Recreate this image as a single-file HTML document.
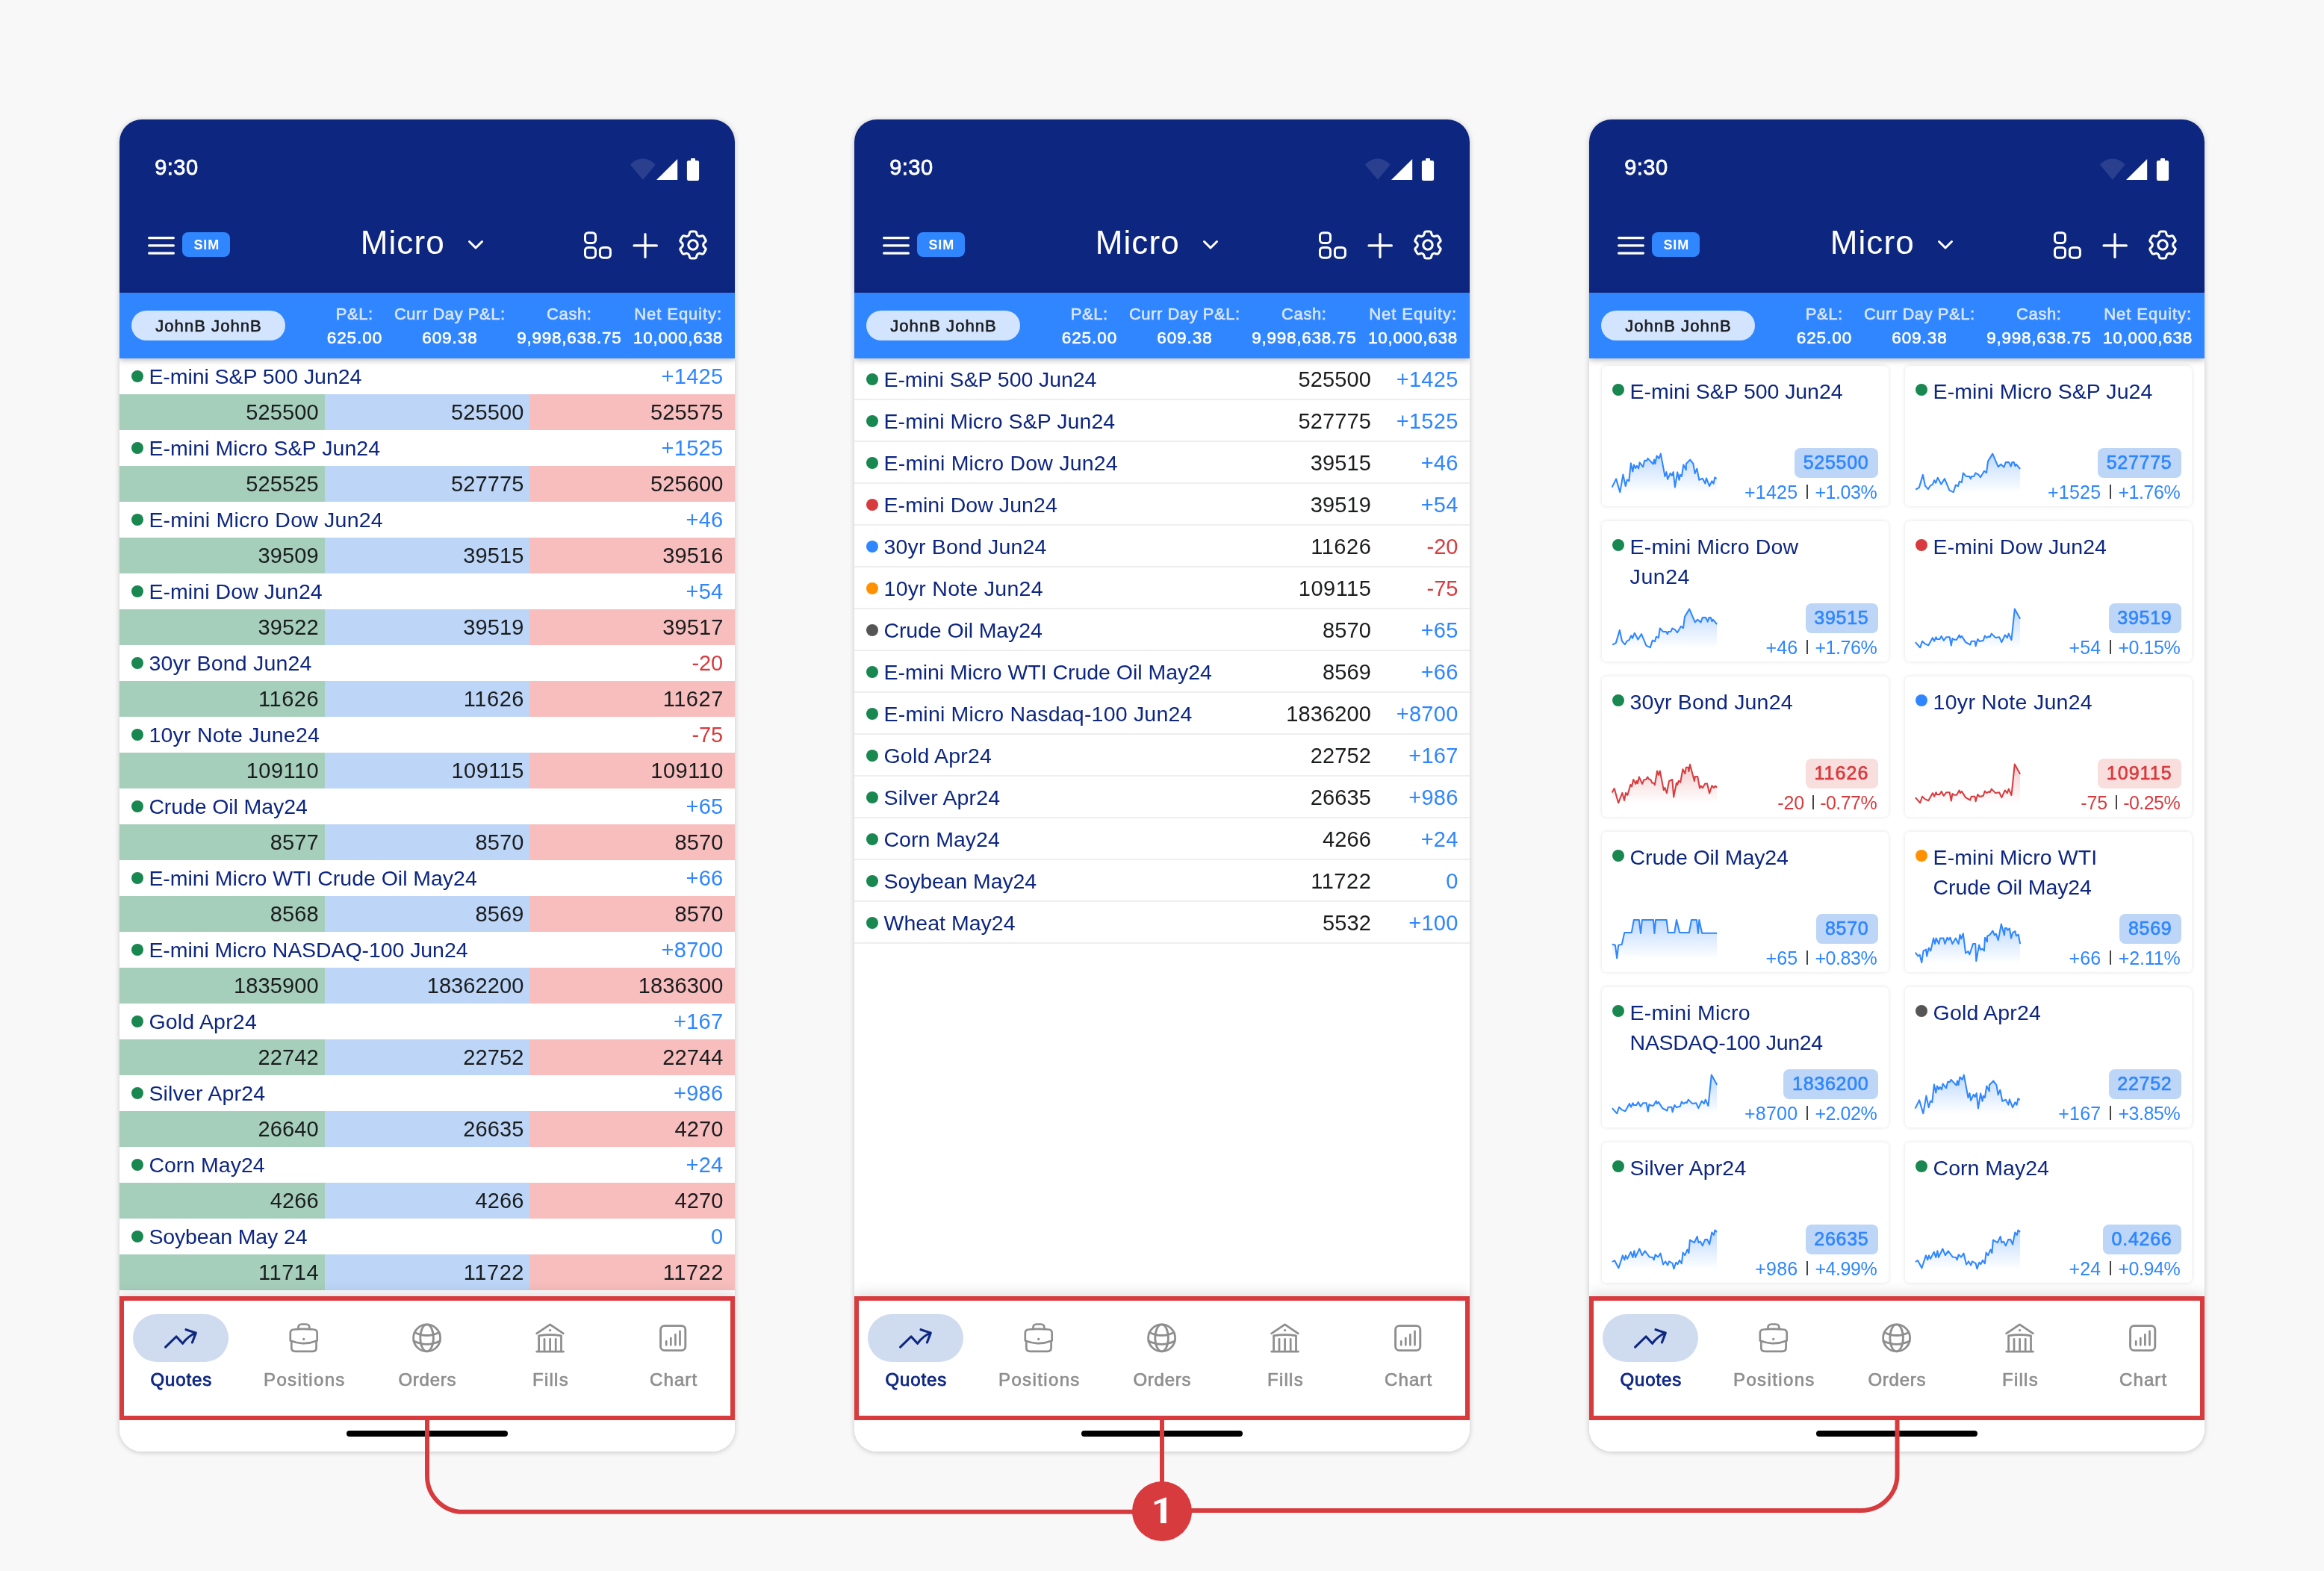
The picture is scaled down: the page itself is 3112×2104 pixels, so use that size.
<!DOCTYPE html><html><head><meta charset="utf-8"><title>Quotes</title><style>
html,body{margin:0;padding:0}
body{width:3112px;height:2104px;background:#f8f8f8;position:relative;overflow:hidden;font-family:"Liberation Sans",sans-serif;}
.b{position:absolute;display:block}
.t{position:absolute;white-space:pre;font-kerning:normal}
.t span{display:inline-block}
.ph{will-change:transform;position:absolute;top:160px;width:824px;height:1784px;background:#fff;border-radius:30px;overflow:hidden;box-shadow:0 1px 7px rgba(0,0,0,.21)}
.card{width:384px;height:188px;background:#fff;border-radius:6px;box-shadow:0 0 5px rgba(0,0,0,.12)}
</style></head><body><div class="ph" style="left:160px"><div class="b" style="left:0.00px;top:0.00px;width:824.00px;height:232.00px;background:#0d2680;"></div><div class="t" style="font-size:29.0px;line-height:40px;color:#fff;top:44px;letter-spacing:0.468px;-webkit-text-stroke:0.78px;left:47.20px;"><span style="margin-right:-0.468px">9:30</span></div><svg class="b" style="left:660px;top:42px;" width="140" height="50" viewBox="0 0 140 50"><path d="M40.9,38.8 L23.9,18.4 A22.3 22.3 0 0 1 57.75,18.4 Z" fill="#fff" fill-opacity="0.12"/><path d="M59,39 H87.2 V10.9 Z" fill="#fff"/><rect x="99.9" y="13" width="16.2" height="27" rx="2.2" fill="#fff"/><rect x="105" y="10" width="6" height="4" rx="1" fill="#fff"/></svg><svg class="b" style="left:38.2px;top:157px;" width="36" height="24" viewBox="0 0 36 24"><rect x="0" y="0" width="36" height="3.2" rx="1.6" fill="#fff"/><rect x="0" y="10.2" width="36" height="3.2" rx="1.6" fill="#fff"/><rect x="0" y="20.5" width="36" height="3.2" rx="1.6" fill="#fff"/></svg><div class="b" style="left:84.00px;top:151.20px;width:64.00px;height:33.00px;background:#2f86ff;border-radius:8px;"></div><div class="t" style="font-size:18px;line-height:24px;color:#fff;top:156px;letter-spacing:0.931px;font-weight:700;left:-483.70px;width:1200px;text-align:center;"><span style="margin-right:-0.931px">SIM</span></div><div class="t" style="font-size:44px;line-height:56px;color:#fff;top:137px;letter-spacing:1.131px;left:322.65px;"><span style="margin-right:-1.131px">Micro</span></div><svg class="b" style="left:460px;top:155px;" width="40" height="30" viewBox="0 0 40 30"><path d="M8.5,8.5 L17,17 L25.5,8.5" fill="none" stroke="#fff" stroke-width="3" stroke-linecap="round" stroke-linejoin="round"/></svg><svg class="b" style="left:620px;top:148px;" width="44" height="42" viewBox="0 0 44 42"><rect x="3.5" y="3.6999999999999886" width="14" height="13.8" rx="4.2" fill="none" stroke="#fff" stroke-width="3"/><rect x="3.5" y="23.400000000000006" width="14" height="13.8" rx="4.2" fill="none" stroke="#fff" stroke-width="3"/><rect x="23.399999999999977" y="23.400000000000006" width="14" height="13.8" rx="4.2" fill="none" stroke="#fff" stroke-width="3"/></svg><svg class="b" style="left:684px;top:148px;" width="40" height="42" viewBox="0 0 40 42"><path d="M5,20.9 H35.4 M20,5.7 V36.4" fill="none" stroke="#fff" stroke-width="3.2" stroke-linecap="round"/></svg><svg class="b" style="left:744.05px;top:143.9px;" width="48" height="48" viewBox="0 0 48 48"><path d="M30.14,11.60 Q29.54,11.25 29.20,10.11 L28.33,7.18 Q27.98,6.04 26.23,6.04 L21.77,6.04 Q20.02,6.04 19.67,7.18 L18.80,10.11 Q18.46,11.25 17.86,11.60 L16.33,12.48 Q15.73,12.83 14.57,12.55 L11.60,11.85 Q10.43,11.57 9.56,13.09 L7.33,16.95 Q6.45,18.47 7.27,19.34 L9.37,21.56 Q10.19,22.43 10.19,23.12 L10.19,24.88 Q10.19,25.57 9.37,26.44 L7.27,28.66 Q6.45,29.53 7.33,31.05 L9.56,34.91 Q10.43,36.43 11.60,36.15 L14.57,35.45 Q15.73,35.17 16.33,35.52 L17.86,36.40 Q18.46,36.75 18.80,37.89 L19.67,40.82 Q20.02,41.96 21.77,41.96 L26.23,41.96 Q27.98,41.96 28.33,40.82 L29.20,37.89 Q29.54,36.75 30.14,36.40 L31.67,35.52 Q32.27,35.17 33.43,35.45 L36.40,36.15 Q37.57,36.43 38.44,34.91 L40.67,31.05 Q41.55,29.53 40.73,28.66 L38.63,26.44 Q37.81,25.57 37.81,24.88 L37.81,23.12 Q37.81,22.43 38.63,21.56 L40.73,19.34 Q41.55,18.47 40.67,16.95 L38.44,13.09 Q37.57,11.57 36.40,11.85 L33.43,12.55 Q32.27,12.83 31.67,12.48 Z" fill="none" stroke="#fff" stroke-width="3.1" stroke-linejoin="round"/><circle cx="24" cy="24" r="6.2" fill="none" stroke="#fff" stroke-width="3.1"/></svg><div class="b" style="left:0.00px;top:232.00px;width:824.00px;height:88.00px;background:#2f86ff;box-shadow:0 2px 8px rgba(0,0,0,.30);z-index:3;"></div><div class="b" style="left:0;top:232px;width:824px;height:88px;z-index:4"><div class="b" style="left:16.00px;top:24.00px;width:206.00px;height:40.00px;background:#d3e4ff;border-radius:20px;"></div><div class="t" style="font-size:22px;line-height:32px;color:#1a1c1e;top:29px;letter-spacing:1.067px;-webkit-text-stroke:0.62px;left:-481.00px;width:1200px;text-align:center;"><span style="margin-right:-1.067px">JohnB JohnB</span></div><div class="t" style="font-size:22px;line-height:32px;color:#d7e6ff;top:13px;letter-spacing:0.531px;-webkit-text-stroke:0.62px;left:-285.50px;width:1200px;text-align:center;"><span style="margin-right:-0.531px">P&amp;L:</span></div><div class="t" style="font-size:22.5px;line-height:32px;color:#fff;top:45px;letter-spacing:0.969px;-webkit-text-stroke:0.62px;left:-285.50px;width:1200px;text-align:center;"><span style="margin-right:-0.969px">625.00</span></div><div class="t" style="font-size:22px;line-height:32px;color:#d7e6ff;top:13px;letter-spacing:0.532px;-webkit-text-stroke:0.62px;left:-158.00px;width:1200px;text-align:center;"><span style="margin-right:-0.532px">Curr Day P&amp;L:</span></div><div class="t" style="font-size:22.5px;line-height:32px;color:#fff;top:45px;letter-spacing:0.969px;-webkit-text-stroke:0.62px;left:-158.00px;width:1200px;text-align:center;"><span style="margin-right:-0.969px">609.38</span></div><div class="t" style="font-size:22px;line-height:32px;color:#d7e6ff;top:13px;letter-spacing:0.619px;-webkit-text-stroke:0.62px;left:2.00px;width:1200px;text-align:center;"><span style="margin-right:-0.619px">Cash:</span></div><div class="t" style="font-size:22.5px;line-height:32px;color:#fff;top:45px;letter-spacing:0.76px;-webkit-text-stroke:0.62px;left:2.00px;width:1200px;text-align:center;"><span style="margin-right:-0.76px">9,998,638.75</span></div><div class="t" style="font-size:22px;line-height:32px;color:#d7e6ff;top:13px;letter-spacing:0.909px;-webkit-text-stroke:0.62px;left:147.70px;width:1200px;text-align:center;"><span style="margin-right:-0.909px">Net Equity:</span></div><div class="t" style="font-size:22.5px;line-height:32px;color:#fff;top:45px;letter-spacing:0.725px;-webkit-text-stroke:0.62px;left:147.70px;width:1200px;text-align:center;"><span style="margin-right:-0.725px">10,000,638</span></div></div><div class="b" style="left:16.00px;top:336.00px;width:16.00px;height:16.00px;background:#188750;border-radius:50%;"></div><div class="t" style="font-size:28.5px;line-height:48px;color:#0d2680;top:320px;letter-spacing:-0.069px;left:39.40px;"><span style="margin-right:0.069px">E-mini S&amp;P 500 Jun24</span></div><div class="t" style="font-size:29.0px;line-height:48px;color:#2f86ff;top:320px;letter-spacing:0.278px;left:-391.90px;width:1200px;text-align:right;"><span style="margin-right:-0.278px">+1425</span></div><div class="b" style="left:0.00px;top:368.00px;width:274.67px;height:48.00px;background:#a6cfbb;"></div><div class="b" style="left:274.67px;top:368.00px;width:274.67px;height:48.00px;background:#bdd6f7;"></div><div class="b" style="left:549.33px;top:368.00px;width:275.67px;height:48.00px;background:#f8bebe;"></div><div class="t" style="font-size:29.0px;line-height:48px;color:#1a1c1e;top:368px;letter-spacing:0.107px;left:-933.33px;width:1200px;text-align:right;"><span style="margin-right:-0.107px">525500</span></div><div class="t" style="font-size:29.0px;line-height:48px;color:#1a1c1e;top:368px;letter-spacing:0.107px;left:-658.57px;width:1200px;text-align:right;"><span style="margin-right:-0.107px">525500</span></div><div class="t" style="font-size:29.0px;line-height:48px;color:#1a1c1e;top:368px;letter-spacing:0.107px;left:-391.70px;width:1200px;text-align:right;"><span style="margin-right:-0.107px">525575</span></div><div class="b" style="left:16.00px;top:432.00px;width:16.00px;height:16.00px;background:#188750;border-radius:50%;"></div><div class="t" style="font-size:28.5px;line-height:48px;color:#0d2680;top:416px;letter-spacing:0.064px;left:39.40px;"><span style="margin-right:-0.064px">E-mini Micro S&amp;P Jun24</span></div><div class="t" style="font-size:29.0px;line-height:48px;color:#2f86ff;top:416px;letter-spacing:0.278px;left:-391.90px;width:1200px;text-align:right;"><span style="margin-right:-0.278px">+1525</span></div><div class="b" style="left:0.00px;top:464.00px;width:274.67px;height:48.00px;background:#a6cfbb;"></div><div class="b" style="left:274.67px;top:464.00px;width:274.67px;height:48.00px;background:#bdd6f7;"></div><div class="b" style="left:549.33px;top:464.00px;width:275.67px;height:48.00px;background:#f8bebe;"></div><div class="t" style="font-size:29.0px;line-height:48px;color:#1a1c1e;top:464px;letter-spacing:0.107px;left:-933.33px;width:1200px;text-align:right;"><span style="margin-right:-0.107px">525525</span></div><div class="t" style="font-size:29.0px;line-height:48px;color:#1a1c1e;top:464px;letter-spacing:0.107px;left:-658.57px;width:1200px;text-align:right;"><span style="margin-right:-0.107px">527775</span></div><div class="t" style="font-size:29.0px;line-height:48px;color:#1a1c1e;top:464px;letter-spacing:0.107px;left:-391.70px;width:1200px;text-align:right;"><span style="margin-right:-0.107px">525600</span></div><div class="b" style="left:16.00px;top:528.00px;width:16.00px;height:16.00px;background:#188750;border-radius:50%;"></div><div class="t" style="font-size:28.5px;line-height:48px;color:#0d2680;top:512px;letter-spacing:0.208px;left:39.40px;"><span style="margin-right:-0.208px">E-mini Micro Dow Jun24</span></div><div class="t" style="font-size:29.0px;line-height:48px;color:#2f86ff;top:512px;letter-spacing:0.185px;left:-391.90px;width:1200px;text-align:right;"><span style="margin-right:-0.185px">+46</span></div><div class="b" style="left:0.00px;top:560.00px;width:274.67px;height:48.00px;background:#a6cfbb;"></div><div class="b" style="left:274.67px;top:560.00px;width:274.67px;height:48.00px;background:#bdd6f7;"></div><div class="b" style="left:549.33px;top:560.00px;width:275.67px;height:48.00px;background:#f8bebe;"></div><div class="t" style="font-size:29.0px;line-height:48px;color:#1a1c1e;top:560px;letter-spacing:0.106px;left:-933.33px;width:1200px;text-align:right;"><span style="margin-right:-0.106px">39509</span></div><div class="t" style="font-size:29.0px;line-height:48px;color:#1a1c1e;top:560px;letter-spacing:0.106px;left:-658.57px;width:1200px;text-align:right;"><span style="margin-right:-0.106px">39515</span></div><div class="t" style="font-size:29.0px;line-height:48px;color:#1a1c1e;top:560px;letter-spacing:0.106px;left:-391.70px;width:1200px;text-align:right;"><span style="margin-right:-0.106px">39516</span></div><div class="b" style="left:16.00px;top:624.00px;width:16.00px;height:16.00px;background:#188750;border-radius:50%;"></div><div class="t" style="font-size:28.5px;line-height:48px;color:#0d2680;top:608px;letter-spacing:0.07px;left:39.40px;"><span style="margin-right:-0.07px">E-mini Dow Jun24</span></div><div class="t" style="font-size:29.0px;line-height:48px;color:#2f86ff;top:608px;letter-spacing:0.185px;left:-391.90px;width:1200px;text-align:right;"><span style="margin-right:-0.185px">+54</span></div><div class="b" style="left:0.00px;top:656.00px;width:274.67px;height:48.00px;background:#a6cfbb;"></div><div class="b" style="left:274.67px;top:656.00px;width:274.67px;height:48.00px;background:#bdd6f7;"></div><div class="b" style="left:549.33px;top:656.00px;width:275.67px;height:48.00px;background:#f8bebe;"></div><div class="t" style="font-size:29.0px;line-height:48px;color:#1a1c1e;top:656px;letter-spacing:0.106px;left:-933.33px;width:1200px;text-align:right;"><span style="margin-right:-0.106px">39522</span></div><div class="t" style="font-size:29.0px;line-height:48px;color:#1a1c1e;top:656px;letter-spacing:0.106px;left:-658.57px;width:1200px;text-align:right;"><span style="margin-right:-0.106px">39519</span></div><div class="t" style="font-size:29.0px;line-height:48px;color:#1a1c1e;top:656px;letter-spacing:0.106px;left:-391.70px;width:1200px;text-align:right;"><span style="margin-right:-0.106px">39517</span></div><div class="b" style="left:16.00px;top:720.00px;width:16.00px;height:16.00px;background:#188750;border-radius:50%;"></div><div class="t" style="font-size:28.5px;line-height:48px;color:#0d2680;top:704px;letter-spacing:0.173px;left:39.40px;"><span style="margin-right:-0.173px">30yr Bond Jun24</span></div><div class="t" style="font-size:29.0px;line-height:48px;color:#d73b3e;top:704px;letter-spacing:-0.101px;left:-391.90px;width:1200px;text-align:right;"><span style="margin-right:0.101px">-20</span></div><div class="b" style="left:0.00px;top:752.00px;width:274.67px;height:48.00px;background:#a6cfbb;"></div><div class="b" style="left:274.67px;top:752.00px;width:274.67px;height:48.00px;background:#bdd6f7;"></div><div class="b" style="left:549.33px;top:752.00px;width:275.67px;height:48.00px;background:#f8bebe;"></div><div class="t" style="font-size:29.0px;line-height:48px;color:#1a1c1e;top:752px;letter-spacing:0.537px;left:-933.33px;width:1200px;text-align:right;"><span style="margin-right:-0.537px">11626</span></div><div class="t" style="font-size:29.0px;line-height:48px;color:#1a1c1e;top:752px;letter-spacing:0.537px;left:-658.57px;width:1200px;text-align:right;"><span style="margin-right:-0.537px">11626</span></div><div class="t" style="font-size:29.0px;line-height:48px;color:#1a1c1e;top:752px;letter-spacing:0.537px;left:-391.70px;width:1200px;text-align:right;"><span style="margin-right:-0.537px">11627</span></div><div class="b" style="left:16.00px;top:816.00px;width:16.00px;height:16.00px;background:#188750;border-radius:50%;"></div><div class="t" style="font-size:28.5px;line-height:48px;color:#0d2680;top:800px;letter-spacing:0.233px;left:39.40px;"><span style="margin-right:-0.233px">10yr Note June24</span></div><div class="t" style="font-size:29.0px;line-height:48px;color:#d73b3e;top:800px;letter-spacing:-0.101px;left:-391.90px;width:1200px;text-align:right;"><span style="margin-right:0.101px">-75</span></div><div class="b" style="left:0.00px;top:848.00px;width:274.67px;height:48.00px;background:#a6cfbb;"></div><div class="b" style="left:274.67px;top:848.00px;width:274.67px;height:48.00px;background:#bdd6f7;"></div><div class="b" style="left:549.33px;top:848.00px;width:275.67px;height:48.00px;background:#f8bebe;"></div><div class="t" style="font-size:29.0px;line-height:48px;color:#1a1c1e;top:848px;letter-spacing:0.466px;left:-933.33px;width:1200px;text-align:right;"><span style="margin-right:-0.466px">109110</span></div><div class="t" style="font-size:29.0px;line-height:48px;color:#1a1c1e;top:848px;letter-spacing:0.466px;left:-658.57px;width:1200px;text-align:right;"><span style="margin-right:-0.466px">109115</span></div><div class="t" style="font-size:29.0px;line-height:48px;color:#1a1c1e;top:848px;letter-spacing:0.466px;left:-391.70px;width:1200px;text-align:right;"><span style="margin-right:-0.466px">109110</span></div><div class="b" style="left:16.00px;top:912.00px;width:16.00px;height:16.00px;background:#188750;border-radius:50%;"></div><div class="t" style="font-size:28.5px;line-height:48px;color:#0d2680;top:896px;letter-spacing:-0.106px;left:39.40px;"><span style="margin-right:0.106px">Crude Oil May24</span></div><div class="t" style="font-size:29.0px;line-height:48px;color:#2f86ff;top:896px;letter-spacing:0.185px;left:-391.90px;width:1200px;text-align:right;"><span style="margin-right:-0.185px">+65</span></div><div class="b" style="left:0.00px;top:944.00px;width:274.67px;height:48.00px;background:#a6cfbb;"></div><div class="b" style="left:274.67px;top:944.00px;width:274.67px;height:48.00px;background:#bdd6f7;"></div><div class="b" style="left:549.33px;top:944.00px;width:275.67px;height:48.00px;background:#f8bebe;"></div><div class="t" style="font-size:29.0px;line-height:48px;color:#1a1c1e;top:944px;letter-spacing:0.109px;left:-933.33px;width:1200px;text-align:right;"><span style="margin-right:-0.109px">8577</span></div><div class="t" style="font-size:29.0px;line-height:48px;color:#1a1c1e;top:944px;letter-spacing:0.109px;left:-658.57px;width:1200px;text-align:right;"><span style="margin-right:-0.109px">8570</span></div><div class="t" style="font-size:29.0px;line-height:48px;color:#1a1c1e;top:944px;letter-spacing:0.109px;left:-391.70px;width:1200px;text-align:right;"><span style="margin-right:-0.109px">8570</span></div><div class="b" style="left:16.00px;top:1008.00px;width:16.00px;height:16.00px;background:#188750;border-radius:50%;"></div><div class="t" style="font-size:28.5px;line-height:48px;color:#0d2680;top:992px;letter-spacing:-0.028px;left:39.40px;"><span style="margin-right:0.028px">E-mini Micro WTI Crude Oil May24</span></div><div class="t" style="font-size:29.0px;line-height:48px;color:#2f86ff;top:992px;letter-spacing:0.185px;left:-391.90px;width:1200px;text-align:right;"><span style="margin-right:-0.185px">+66</span></div><div class="b" style="left:0.00px;top:1040.00px;width:274.67px;height:48.00px;background:#a6cfbb;"></div><div class="b" style="left:274.67px;top:1040.00px;width:274.67px;height:48.00px;background:#bdd6f7;"></div><div class="b" style="left:549.33px;top:1040.00px;width:275.67px;height:48.00px;background:#f8bebe;"></div><div class="t" style="font-size:29.0px;line-height:48px;color:#1a1c1e;top:1040px;letter-spacing:0.109px;left:-933.33px;width:1200px;text-align:right;"><span style="margin-right:-0.109px">8568</span></div><div class="t" style="font-size:29.0px;line-height:48px;color:#1a1c1e;top:1040px;letter-spacing:0.109px;left:-658.57px;width:1200px;text-align:right;"><span style="margin-right:-0.109px">8569</span></div><div class="t" style="font-size:29.0px;line-height:48px;color:#1a1c1e;top:1040px;letter-spacing:0.109px;left:-391.70px;width:1200px;text-align:right;"><span style="margin-right:-0.109px">8570</span></div><div class="b" style="left:16.00px;top:1104.00px;width:16.00px;height:16.00px;background:#188750;border-radius:50%;"></div><div class="t" style="font-size:28.5px;line-height:48px;color:#0d2680;top:1088px;letter-spacing:-0.075px;left:39.40px;"><span style="margin-right:0.075px">E-mini Micro NASDAQ-100 Jun24</span></div><div class="t" style="font-size:29.0px;line-height:48px;color:#2f86ff;top:1088px;letter-spacing:0.278px;left:-391.90px;width:1200px;text-align:right;"><span style="margin-right:-0.278px">+8700</span></div><div class="b" style="left:0.00px;top:1136.00px;width:274.67px;height:48.00px;background:#a6cfbb;"></div><div class="b" style="left:274.67px;top:1136.00px;width:274.67px;height:48.00px;background:#bdd6f7;"></div><div class="b" style="left:549.33px;top:1136.00px;width:275.67px;height:48.00px;background:#f8bebe;"></div><div class="t" style="font-size:29.0px;line-height:48px;color:#1a1c1e;top:1136px;letter-spacing:0.107px;left:-933.33px;width:1200px;text-align:right;"><span style="margin-right:-0.107px">1835900</span></div><div class="t" style="font-size:29.0px;line-height:48px;color:#1a1c1e;top:1136px;letter-spacing:0.107px;left:-658.57px;width:1200px;text-align:right;"><span style="margin-right:-0.107px">18362200</span></div><div class="t" style="font-size:29.0px;line-height:48px;color:#1a1c1e;top:1136px;letter-spacing:0.107px;left:-391.70px;width:1200px;text-align:right;"><span style="margin-right:-0.107px">1836300</span></div><div class="b" style="left:16.00px;top:1200.00px;width:16.00px;height:16.00px;background:#188750;border-radius:50%;"></div><div class="t" style="font-size:28.5px;line-height:48px;color:#0d2680;top:1184px;letter-spacing:0.194px;left:39.40px;"><span style="margin-right:-0.194px">Gold Apr24</span></div><div class="t" style="font-size:29.0px;line-height:48px;color:#2f86ff;top:1184px;letter-spacing:0.245px;left:-391.90px;width:1200px;text-align:right;"><span style="margin-right:-0.245px">+167</span></div><div class="b" style="left:0.00px;top:1232.00px;width:274.67px;height:48.00px;background:#a6cfbb;"></div><div class="b" style="left:274.67px;top:1232.00px;width:274.67px;height:48.00px;background:#bdd6f7;"></div><div class="b" style="left:549.33px;top:1232.00px;width:275.67px;height:48.00px;background:#f8bebe;"></div><div class="t" style="font-size:29.0px;line-height:48px;color:#1a1c1e;top:1232px;letter-spacing:0.106px;left:-933.33px;width:1200px;text-align:right;"><span style="margin-right:-0.106px">22742</span></div><div class="t" style="font-size:29.0px;line-height:48px;color:#1a1c1e;top:1232px;letter-spacing:0.106px;left:-658.57px;width:1200px;text-align:right;"><span style="margin-right:-0.106px">22752</span></div><div class="t" style="font-size:29.0px;line-height:48px;color:#1a1c1e;top:1232px;letter-spacing:0.106px;left:-391.70px;width:1200px;text-align:right;"><span style="margin-right:-0.106px">22744</span></div><div class="b" style="left:16.00px;top:1296.00px;width:16.00px;height:16.00px;background:#188750;border-radius:50%;"></div><div class="t" style="font-size:28.5px;line-height:48px;color:#0d2680;top:1280px;letter-spacing:0.182px;left:39.40px;"><span style="margin-right:-0.182px">Silver Apr24</span></div><div class="t" style="font-size:29.0px;line-height:48px;color:#2f86ff;top:1280px;letter-spacing:0.245px;left:-391.90px;width:1200px;text-align:right;"><span style="margin-right:-0.245px">+986</span></div><div class="b" style="left:0.00px;top:1328.00px;width:274.67px;height:48.00px;background:#a6cfbb;"></div><div class="b" style="left:274.67px;top:1328.00px;width:274.67px;height:48.00px;background:#bdd6f7;"></div><div class="b" style="left:549.33px;top:1328.00px;width:275.67px;height:48.00px;background:#f8bebe;"></div><div class="t" style="font-size:29.0px;line-height:48px;color:#1a1c1e;top:1328px;letter-spacing:0.106px;left:-933.33px;width:1200px;text-align:right;"><span style="margin-right:-0.106px">26640</span></div><div class="t" style="font-size:29.0px;line-height:48px;color:#1a1c1e;top:1328px;letter-spacing:0.106px;left:-658.57px;width:1200px;text-align:right;"><span style="margin-right:-0.106px">26635</span></div><div class="t" style="font-size:29.0px;line-height:48px;color:#1a1c1e;top:1328px;letter-spacing:0.109px;left:-391.70px;width:1200px;text-align:right;"><span style="margin-right:-0.109px">4270</span></div><div class="b" style="left:16.00px;top:1392.00px;width:16.00px;height:16.00px;background:#188750;border-radius:50%;"></div><div class="t" style="font-size:28.5px;line-height:48px;color:#0d2680;top:1376px;letter-spacing:0.005px;left:39.40px;"><span style="margin-right:-0.005px">Corn May24</span></div><div class="t" style="font-size:29.0px;line-height:48px;color:#2f86ff;top:1376px;letter-spacing:0.185px;left:-391.90px;width:1200px;text-align:right;"><span style="margin-right:-0.185px">+24</span></div><div class="b" style="left:0.00px;top:1424.00px;width:274.67px;height:48.00px;background:#a6cfbb;"></div><div class="b" style="left:274.67px;top:1424.00px;width:274.67px;height:48.00px;background:#bdd6f7;"></div><div class="b" style="left:549.33px;top:1424.00px;width:275.67px;height:48.00px;background:#f8bebe;"></div><div class="t" style="font-size:29.0px;line-height:48px;color:#1a1c1e;top:1424px;letter-spacing:0.109px;left:-933.33px;width:1200px;text-align:right;"><span style="margin-right:-0.109px">4266</span></div><div class="t" style="font-size:29.0px;line-height:48px;color:#1a1c1e;top:1424px;letter-spacing:0.109px;left:-658.57px;width:1200px;text-align:right;"><span style="margin-right:-0.109px">4266</span></div><div class="t" style="font-size:29.0px;line-height:48px;color:#1a1c1e;top:1424px;letter-spacing:0.109px;left:-391.70px;width:1200px;text-align:right;"><span style="margin-right:-0.109px">4270</span></div><div class="b" style="left:16.00px;top:1488.00px;width:16.00px;height:16.00px;background:#188750;border-radius:50%;"></div><div class="t" style="font-size:28.5px;line-height:48px;color:#0d2680;top:1472px;letter-spacing:-0.136px;left:39.40px;"><span style="margin-right:0.136px">Soybean May 24</span></div><div class="t" style="font-size:29.0px;line-height:48px;color:#2f86ff;top:1472px;letter-spacing:0.409px;left:-391.90px;width:1200px;text-align:right;"><span style="margin-right:-0.409px">0</span></div><div class="b" style="left:0.00px;top:1520.00px;width:274.67px;height:48.00px;background:#a6cfbb;"></div><div class="b" style="left:274.67px;top:1520.00px;width:274.67px;height:48.00px;background:#bdd6f7;"></div><div class="b" style="left:549.33px;top:1520.00px;width:275.67px;height:48.00px;background:#f8bebe;"></div><div class="t" style="font-size:29.0px;line-height:48px;color:#1a1c1e;top:1520px;letter-spacing:0.537px;left:-933.33px;width:1200px;text-align:right;"><span style="margin-right:-0.537px">11714</span></div><div class="t" style="font-size:29.0px;line-height:48px;color:#1a1c1e;top:1520px;letter-spacing:0.537px;left:-658.57px;width:1200px;text-align:right;"><span style="margin-right:-0.537px">11722</span></div><div class="t" style="font-size:29.0px;line-height:48px;color:#1a1c1e;top:1520px;letter-spacing:0.537px;left:-391.70px;width:1200px;text-align:right;"><span style="margin-right:-0.537px">11722</span></div><div class="b" style="left:0.00px;top:1576.00px;width:824.00px;height:160.00px;background:#fff;box-shadow:0 -3px 18px rgba(0,0,0,.145);z-index:5;"></div><div class="b" style="left:0.00px;top:1736.00px;width:824.00px;height:48.00px;background:#fff;z-index:5;"></div><div class="b" style="left:0;top:1576px;width:824px;height:166px;z-index:6"><div class="b" style="left:18.40px;top:24.00px;width:128.00px;height:64.00px;background:#cfdbee;border-radius:32px;"></div><svg class="b" style="left:0;top:0" width="824" height="160" viewBox="160 1736 824 160"><path d="M221.6,1804.2 L236.1,1790 L244.6,1799.3 Q252,1789 262.3,1785.1 M249,1780.7 L262.3,1785.1 L257.4,1798" fill="none" stroke="#0d2680" stroke-width="3.1" stroke-linecap="round" stroke-linejoin="round"/><g fill="none" stroke="#8e8e8e" stroke-width="2.7" stroke-linecap="round" stroke-linejoin="round"><path d="M399.4,1779.6 V1778.2 Q399.4,1773.5 404.2,1773.5 H409.6 Q414.4,1773.5 414.4,1778.2 V1779.6"/><path d="M388.8,1795.6 V1785.2 Q388.8,1780.7 393.6,1780.5 Q406.75,1779.4 419.9,1780.5 Q424.7,1780.7 424.7,1785.2 V1795.6 Q406.75,1802.8 388.8,1795.6 Z"/><path d="M390.3,1797 V1805 Q390.3,1809.9 395.5,1809.9 H418.4 Q423.6,1809.9 423.6,1805 V1797"/></g><circle cx="406.7" cy="1793.5" r="1.7" fill="#8e8e8e"/><g fill="none" stroke="#8e8e8e" stroke-width="2.8" stroke-linecap="round"><circle cx="571.6" cy="1791.9" r="18"/><ellipse cx="571.6" cy="1791.9" rx="8.8" ry="18"/><path d="M555.2,1784.4 Q571.6,1792.6 588,1784.4 M554,1796 Q571.6,1804.6 589.2,1796"/></g><g fill="none" stroke="#8e8e8e" stroke-width="2.75" stroke-linecap="round" stroke-linejoin="round"><path d="M718.7,1785.9 L736.5,1773.8 L754.3,1785.9"/><path d="M721.6,1808.6 V1788.8 Q736.5,1786.4 751.5,1788.8 V1808.6"/><path d="M729,1793.4 V1808.2 M736.6,1793.4 V1808.2 M744.2,1793.4 V1808.2"/><path d="M718.8,1810.2 H754.4"/></g><circle cx="736.6" cy="1781.6" r="1.7" fill="#8e8e8e"/><g fill="none" stroke="#8e8e8e" stroke-linecap="round"><rect x="884.6" y="1775.6" width="33.2" height="33" rx="5.2" stroke-width="2.9"/><path d="M892.2,1796.3 V1801.3 M898.3,1792 V1801.3 M904.4,1787.4 V1801.3 M910.5,1782.9 V1801.3" stroke-width="2.7"/></g></svg><div class="t" style="font-size:24px;line-height:32px;color:#0d2680;top:96px;letter-spacing:0.909px;-webkit-text-stroke:0.82px;left:-517.60px;width:1200px;text-align:center;"><span style="margin-right:-0.909px">Quotes</span></div><div class="t" style="font-size:24px;line-height:32px;color:#8e8e8e;top:96px;letter-spacing:1.366px;-webkit-text-stroke:0.67px;left:-352.80px;width:1200px;text-align:center;"><span style="margin-right:-1.366px">Positions</span></div><div class="t" style="font-size:24px;line-height:32px;color:#8e8e8e;top:96px;letter-spacing:0.776px;-webkit-text-stroke:0.67px;left:-188.00px;width:1200px;text-align:center;"><span style="margin-right:-0.776px">Orders</span></div><div class="t" style="font-size:24px;line-height:32px;color:#8e8e8e;top:96px;letter-spacing:1.253px;-webkit-text-stroke:0.67px;left:-23.20px;width:1200px;text-align:center;"><span style="margin-right:-1.253px">Fills</span></div><div class="t" style="font-size:24px;line-height:32px;color:#8e8e8e;top:96px;letter-spacing:1.066px;-webkit-text-stroke:0.67px;left:141.60px;width:1200px;text-align:center;"><span style="margin-right:-1.066px">Chart</span></div><div class="b" style="left:0.00px;top:0.00px;width:812.00px;height:154.00px;background:transparent;border:6px solid #d73b3e;"></div></div><div class="b" style="left:304.00px;top:1756.00px;width:216.00px;height:8.00px;background:#000;border-radius:4px;z-index:6;"></div></div><div class="ph" style="left:1144px"><div class="b" style="left:0.00px;top:0.00px;width:824.00px;height:232.00px;background:#0d2680;"></div><div class="t" style="font-size:29.0px;line-height:40px;color:#fff;top:44px;letter-spacing:0.468px;-webkit-text-stroke:0.78px;left:47.20px;"><span style="margin-right:-0.468px">9:30</span></div><svg class="b" style="left:660px;top:42px;" width="140" height="50" viewBox="0 0 140 50"><path d="M40.9,38.8 L23.9,18.4 A22.3 22.3 0 0 1 57.75,18.4 Z" fill="#fff" fill-opacity="0.12"/><path d="M59,39 H87.2 V10.9 Z" fill="#fff"/><rect x="99.9" y="13" width="16.2" height="27" rx="2.2" fill="#fff"/><rect x="105" y="10" width="6" height="4" rx="1" fill="#fff"/></svg><svg class="b" style="left:38.2px;top:157px;" width="36" height="24" viewBox="0 0 36 24"><rect x="0" y="0" width="36" height="3.2" rx="1.6" fill="#fff"/><rect x="0" y="10.2" width="36" height="3.2" rx="1.6" fill="#fff"/><rect x="0" y="20.5" width="36" height="3.2" rx="1.6" fill="#fff"/></svg><div class="b" style="left:84.00px;top:151.20px;width:64.00px;height:33.00px;background:#2f86ff;border-radius:8px;"></div><div class="t" style="font-size:18px;line-height:24px;color:#fff;top:156px;letter-spacing:0.931px;font-weight:700;left:-483.70px;width:1200px;text-align:center;"><span style="margin-right:-0.931px">SIM</span></div><div class="t" style="font-size:44px;line-height:56px;color:#fff;top:137px;letter-spacing:1.131px;left:322.65px;"><span style="margin-right:-1.131px">Micro</span></div><svg class="b" style="left:460px;top:155px;" width="40" height="30" viewBox="0 0 40 30"><path d="M8.5,8.5 L17,17 L25.5,8.5" fill="none" stroke="#fff" stroke-width="3" stroke-linecap="round" stroke-linejoin="round"/></svg><svg class="b" style="left:620px;top:148px;" width="44" height="42" viewBox="0 0 44 42"><rect x="3.5" y="3.6999999999999886" width="14" height="13.8" rx="4.2" fill="none" stroke="#fff" stroke-width="3"/><rect x="3.5" y="23.400000000000006" width="14" height="13.8" rx="4.2" fill="none" stroke="#fff" stroke-width="3"/><rect x="23.399999999999977" y="23.400000000000006" width="14" height="13.8" rx="4.2" fill="none" stroke="#fff" stroke-width="3"/></svg><svg class="b" style="left:684px;top:148px;" width="40" height="42" viewBox="0 0 40 42"><path d="M5,20.9 H35.4 M20,5.7 V36.4" fill="none" stroke="#fff" stroke-width="3.2" stroke-linecap="round"/></svg><svg class="b" style="left:744.05px;top:143.9px;" width="48" height="48" viewBox="0 0 48 48"><path d="M30.14,11.60 Q29.54,11.25 29.20,10.11 L28.33,7.18 Q27.98,6.04 26.23,6.04 L21.77,6.04 Q20.02,6.04 19.67,7.18 L18.80,10.11 Q18.46,11.25 17.86,11.60 L16.33,12.48 Q15.73,12.83 14.57,12.55 L11.60,11.85 Q10.43,11.57 9.56,13.09 L7.33,16.95 Q6.45,18.47 7.27,19.34 L9.37,21.56 Q10.19,22.43 10.19,23.12 L10.19,24.88 Q10.19,25.57 9.37,26.44 L7.27,28.66 Q6.45,29.53 7.33,31.05 L9.56,34.91 Q10.43,36.43 11.60,36.15 L14.57,35.45 Q15.73,35.17 16.33,35.52 L17.86,36.40 Q18.46,36.75 18.80,37.89 L19.67,40.82 Q20.02,41.96 21.77,41.96 L26.23,41.96 Q27.98,41.96 28.33,40.82 L29.20,37.89 Q29.54,36.75 30.14,36.40 L31.67,35.52 Q32.27,35.17 33.43,35.45 L36.40,36.15 Q37.57,36.43 38.44,34.91 L40.67,31.05 Q41.55,29.53 40.73,28.66 L38.63,26.44 Q37.81,25.57 37.81,24.88 L37.81,23.12 Q37.81,22.43 38.63,21.56 L40.73,19.34 Q41.55,18.47 40.67,16.95 L38.44,13.09 Q37.57,11.57 36.40,11.85 L33.43,12.55 Q32.27,12.83 31.67,12.48 Z" fill="none" stroke="#fff" stroke-width="3.1" stroke-linejoin="round"/><circle cx="24" cy="24" r="6.2" fill="none" stroke="#fff" stroke-width="3.1"/></svg><div class="b" style="left:0.00px;top:232.00px;width:824.00px;height:88.00px;background:#2f86ff;box-shadow:0 2px 8px rgba(0,0,0,.30);z-index:3;"></div><div class="b" style="left:0;top:232px;width:824px;height:88px;z-index:4"><div class="b" style="left:16.00px;top:24.00px;width:206.00px;height:40.00px;background:#d3e4ff;border-radius:20px;"></div><div class="t" style="font-size:22px;line-height:32px;color:#1a1c1e;top:29px;letter-spacing:1.067px;-webkit-text-stroke:0.62px;left:-481.00px;width:1200px;text-align:center;"><span style="margin-right:-1.067px">JohnB JohnB</span></div><div class="t" style="font-size:22px;line-height:32px;color:#d7e6ff;top:13px;letter-spacing:0.531px;-webkit-text-stroke:0.62px;left:-285.50px;width:1200px;text-align:center;"><span style="margin-right:-0.531px">P&amp;L:</span></div><div class="t" style="font-size:22.5px;line-height:32px;color:#fff;top:45px;letter-spacing:0.969px;-webkit-text-stroke:0.62px;left:-285.50px;width:1200px;text-align:center;"><span style="margin-right:-0.969px">625.00</span></div><div class="t" style="font-size:22px;line-height:32px;color:#d7e6ff;top:13px;letter-spacing:0.532px;-webkit-text-stroke:0.62px;left:-158.00px;width:1200px;text-align:center;"><span style="margin-right:-0.532px">Curr Day P&amp;L:</span></div><div class="t" style="font-size:22.5px;line-height:32px;color:#fff;top:45px;letter-spacing:0.969px;-webkit-text-stroke:0.62px;left:-158.00px;width:1200px;text-align:center;"><span style="margin-right:-0.969px">609.38</span></div><div class="t" style="font-size:22px;line-height:32px;color:#d7e6ff;top:13px;letter-spacing:0.619px;-webkit-text-stroke:0.62px;left:2.00px;width:1200px;text-align:center;"><span style="margin-right:-0.619px">Cash:</span></div><div class="t" style="font-size:22.5px;line-height:32px;color:#fff;top:45px;letter-spacing:0.76px;-webkit-text-stroke:0.62px;left:2.00px;width:1200px;text-align:center;"><span style="margin-right:-0.76px">9,998,638.75</span></div><div class="t" style="font-size:22px;line-height:32px;color:#d7e6ff;top:13px;letter-spacing:0.909px;-webkit-text-stroke:0.62px;left:147.70px;width:1200px;text-align:center;"><span style="margin-right:-0.909px">Net Equity:</span></div><div class="t" style="font-size:22.5px;line-height:32px;color:#fff;top:45px;letter-spacing:0.725px;-webkit-text-stroke:0.62px;left:147.70px;width:1200px;text-align:center;"><span style="margin-right:-0.725px">10,000,638</span></div></div><div class="b" style="left:16.00px;top:340.00px;width:16.00px;height:16.00px;background:#188750;border-radius:50%;"></div><div class="t" style="font-size:28.5px;line-height:56px;color:#0d2680;top:320px;letter-spacing:-0.069px;left:39.50px;"><span style="margin-right:0.069px">E-mini S&amp;P 500 Jun24</span></div><div class="t" style="font-size:29.0px;line-height:56px;color:#1a1c1e;top:320px;letter-spacing:0.107px;left:-508.20px;width:1200px;text-align:right;"><span style="margin-right:-0.107px">525500</span></div><div class="t" style="font-size:29.0px;line-height:56px;color:#2f86ff;top:320px;letter-spacing:0.278px;left:-391.70px;width:1200px;text-align:right;"><span style="margin-right:-0.278px">+1425</span></div><div class="b" style="left:0.00px;top:374.00px;width:824.00px;height:2.00px;background:#eeeeee;"></div><div class="b" style="left:16.00px;top:396.00px;width:16.00px;height:16.00px;background:#188750;border-radius:50%;"></div><div class="t" style="font-size:28.5px;line-height:56px;color:#0d2680;top:376px;letter-spacing:0.064px;left:39.50px;"><span style="margin-right:-0.064px">E-mini Micro S&amp;P Jun24</span></div><div class="t" style="font-size:29.0px;line-height:56px;color:#1a1c1e;top:376px;letter-spacing:0.107px;left:-508.20px;width:1200px;text-align:right;"><span style="margin-right:-0.107px">527775</span></div><div class="t" style="font-size:29.0px;line-height:56px;color:#2f86ff;top:376px;letter-spacing:0.278px;left:-391.70px;width:1200px;text-align:right;"><span style="margin-right:-0.278px">+1525</span></div><div class="b" style="left:0.00px;top:430.00px;width:824.00px;height:2.00px;background:#eeeeee;"></div><div class="b" style="left:16.00px;top:452.00px;width:16.00px;height:16.00px;background:#188750;border-radius:50%;"></div><div class="t" style="font-size:28.5px;line-height:56px;color:#0d2680;top:432px;letter-spacing:0.208px;left:39.50px;"><span style="margin-right:-0.208px">E-mini Micro Dow Jun24</span></div><div class="t" style="font-size:29.0px;line-height:56px;color:#1a1c1e;top:432px;letter-spacing:0.106px;left:-508.20px;width:1200px;text-align:right;"><span style="margin-right:-0.106px">39515</span></div><div class="t" style="font-size:29.0px;line-height:56px;color:#2f86ff;top:432px;letter-spacing:0.185px;left:-391.70px;width:1200px;text-align:right;"><span style="margin-right:-0.185px">+46</span></div><div class="b" style="left:0.00px;top:486.00px;width:824.00px;height:2.00px;background:#eeeeee;"></div><div class="b" style="left:16.00px;top:508.00px;width:16.00px;height:16.00px;background:#d73b3e;border-radius:50%;"></div><div class="t" style="font-size:28.5px;line-height:56px;color:#0d2680;top:488px;letter-spacing:0.07px;left:39.50px;"><span style="margin-right:-0.07px">E-mini Dow Jun24</span></div><div class="t" style="font-size:29.0px;line-height:56px;color:#1a1c1e;top:488px;letter-spacing:0.106px;left:-508.20px;width:1200px;text-align:right;"><span style="margin-right:-0.106px">39519</span></div><div class="t" style="font-size:29.0px;line-height:56px;color:#2f86ff;top:488px;letter-spacing:0.185px;left:-391.70px;width:1200px;text-align:right;"><span style="margin-right:-0.185px">+54</span></div><div class="b" style="left:0.00px;top:542.00px;width:824.00px;height:2.00px;background:#eeeeee;"></div><div class="b" style="left:16.00px;top:564.00px;width:16.00px;height:16.00px;background:#2f86ff;border-radius:50%;"></div><div class="t" style="font-size:28.5px;line-height:56px;color:#0d2680;top:544px;letter-spacing:0.173px;left:39.50px;"><span style="margin-right:-0.173px">30yr Bond Jun24</span></div><div class="t" style="font-size:29.0px;line-height:56px;color:#1a1c1e;top:544px;letter-spacing:0.537px;left:-508.20px;width:1200px;text-align:right;"><span style="margin-right:-0.537px">11626</span></div><div class="t" style="font-size:29.0px;line-height:56px;color:#d73b3e;top:544px;letter-spacing:-0.101px;left:-391.70px;width:1200px;text-align:right;"><span style="margin-right:0.101px">-20</span></div><div class="b" style="left:0.00px;top:598.00px;width:824.00px;height:2.00px;background:#eeeeee;"></div><div class="b" style="left:16.00px;top:620.00px;width:16.00px;height:16.00px;background:#ff9100;border-radius:50%;"></div><div class="t" style="font-size:28.5px;line-height:56px;color:#0d2680;top:600px;letter-spacing:0.282px;left:39.50px;"><span style="margin-right:-0.282px">10yr Note Jun24</span></div><div class="t" style="font-size:29.0px;line-height:56px;color:#1a1c1e;top:600px;letter-spacing:0.466px;left:-508.20px;width:1200px;text-align:right;"><span style="margin-right:-0.466px">109115</span></div><div class="t" style="font-size:29.0px;line-height:56px;color:#d73b3e;top:600px;letter-spacing:-0.101px;left:-391.70px;width:1200px;text-align:right;"><span style="margin-right:0.101px">-75</span></div><div class="b" style="left:0.00px;top:654.00px;width:824.00px;height:2.00px;background:#eeeeee;"></div><div class="b" style="left:16.00px;top:676.00px;width:16.00px;height:16.00px;background:#555555;border-radius:50%;"></div><div class="t" style="font-size:28.5px;line-height:56px;color:#0d2680;top:656px;letter-spacing:-0.106px;left:39.50px;"><span style="margin-right:0.106px">Crude Oil May24</span></div><div class="t" style="font-size:29.0px;line-height:56px;color:#1a1c1e;top:656px;letter-spacing:0.109px;left:-508.20px;width:1200px;text-align:right;"><span style="margin-right:-0.109px">8570</span></div><div class="t" style="font-size:29.0px;line-height:56px;color:#2f86ff;top:656px;letter-spacing:0.185px;left:-391.70px;width:1200px;text-align:right;"><span style="margin-right:-0.185px">+65</span></div><div class="b" style="left:0.00px;top:710.00px;width:824.00px;height:2.00px;background:#eeeeee;"></div><div class="b" style="left:16.00px;top:732.00px;width:16.00px;height:16.00px;background:#188750;border-radius:50%;"></div><div class="t" style="font-size:28.5px;line-height:56px;color:#0d2680;top:712px;letter-spacing:-0.028px;left:39.50px;"><span style="margin-right:0.028px">E-mini Micro WTI Crude Oil May24</span></div><div class="t" style="font-size:29.0px;line-height:56px;color:#1a1c1e;top:712px;letter-spacing:0.109px;left:-508.20px;width:1200px;text-align:right;"><span style="margin-right:-0.109px">8569</span></div><div class="t" style="font-size:29.0px;line-height:56px;color:#2f86ff;top:712px;letter-spacing:0.185px;left:-391.70px;width:1200px;text-align:right;"><span style="margin-right:-0.185px">+66</span></div><div class="b" style="left:0.00px;top:766.00px;width:824.00px;height:2.00px;background:#eeeeee;"></div><div class="b" style="left:16.00px;top:788.00px;width:16.00px;height:16.00px;background:#188750;border-radius:50%;"></div><div class="t" style="font-size:28.5px;line-height:56px;color:#0d2680;top:768px;letter-spacing:0.206px;left:39.50px;"><span style="margin-right:-0.206px">E-mini Micro Nasdaq-100 Jun24</span></div><div class="t" style="font-size:29.0px;line-height:56px;color:#1a1c1e;top:768px;letter-spacing:0.107px;left:-508.20px;width:1200px;text-align:right;"><span style="margin-right:-0.107px">1836200</span></div><div class="t" style="font-size:29.0px;line-height:56px;color:#2f86ff;top:768px;letter-spacing:0.278px;left:-391.70px;width:1200px;text-align:right;"><span style="margin-right:-0.278px">+8700</span></div><div class="b" style="left:0.00px;top:822.00px;width:824.00px;height:2.00px;background:#eeeeee;"></div><div class="b" style="left:16.00px;top:844.00px;width:16.00px;height:16.00px;background:#188750;border-radius:50%;"></div><div class="t" style="font-size:28.5px;line-height:56px;color:#0d2680;top:824px;letter-spacing:0.194px;left:39.50px;"><span style="margin-right:-0.194px">Gold Apr24</span></div><div class="t" style="font-size:29.0px;line-height:56px;color:#1a1c1e;top:824px;letter-spacing:0.106px;left:-508.20px;width:1200px;text-align:right;"><span style="margin-right:-0.106px">22752</span></div><div class="t" style="font-size:29.0px;line-height:56px;color:#2f86ff;top:824px;letter-spacing:0.245px;left:-391.70px;width:1200px;text-align:right;"><span style="margin-right:-0.245px">+167</span></div><div class="b" style="left:0.00px;top:878.00px;width:824.00px;height:2.00px;background:#eeeeee;"></div><div class="b" style="left:16.00px;top:900.00px;width:16.00px;height:16.00px;background:#188750;border-radius:50%;"></div><div class="t" style="font-size:28.5px;line-height:56px;color:#0d2680;top:880px;letter-spacing:0.182px;left:39.50px;"><span style="margin-right:-0.182px">Silver Apr24</span></div><div class="t" style="font-size:29.0px;line-height:56px;color:#1a1c1e;top:880px;letter-spacing:0.106px;left:-508.20px;width:1200px;text-align:right;"><span style="margin-right:-0.106px">26635</span></div><div class="t" style="font-size:29.0px;line-height:56px;color:#2f86ff;top:880px;letter-spacing:0.245px;left:-391.70px;width:1200px;text-align:right;"><span style="margin-right:-0.245px">+986</span></div><div class="b" style="left:0.00px;top:934.00px;width:824.00px;height:2.00px;background:#eeeeee;"></div><div class="b" style="left:16.00px;top:956.00px;width:16.00px;height:16.00px;background:#188750;border-radius:50%;"></div><div class="t" style="font-size:28.5px;line-height:56px;color:#0d2680;top:936px;letter-spacing:0.005px;left:39.50px;"><span style="margin-right:-0.005px">Corn May24</span></div><div class="t" style="font-size:29.0px;line-height:56px;color:#1a1c1e;top:936px;letter-spacing:0.109px;left:-508.20px;width:1200px;text-align:right;"><span style="margin-right:-0.109px">4266</span></div><div class="t" style="font-size:29.0px;line-height:56px;color:#2f86ff;top:936px;letter-spacing:0.185px;left:-391.70px;width:1200px;text-align:right;"><span style="margin-right:-0.185px">+24</span></div><div class="b" style="left:0.00px;top:990.00px;width:824.00px;height:2.00px;background:#eeeeee;"></div><div class="b" style="left:16.00px;top:1012.00px;width:16.00px;height:16.00px;background:#188750;border-radius:50%;"></div><div class="t" style="font-size:28.5px;line-height:56px;color:#0d2680;top:992px;letter-spacing:-0.111px;left:39.50px;"><span style="margin-right:0.111px">Soybean May24</span></div><div class="t" style="font-size:29.0px;line-height:56px;color:#1a1c1e;top:992px;letter-spacing:0.537px;left:-508.20px;width:1200px;text-align:right;"><span style="margin-right:-0.537px">11722</span></div><div class="t" style="font-size:29.0px;line-height:56px;color:#2f86ff;top:992px;letter-spacing:0.409px;left:-391.70px;width:1200px;text-align:right;"><span style="margin-right:-0.409px">0</span></div><div class="b" style="left:0.00px;top:1046.00px;width:824.00px;height:2.00px;background:#eeeeee;"></div><div class="b" style="left:16.00px;top:1068.00px;width:16.00px;height:16.00px;background:#188750;border-radius:50%;"></div><div class="t" style="font-size:28.5px;line-height:56px;color:#0d2680;top:1048px;letter-spacing:0.027px;left:39.50px;"><span style="margin-right:-0.027px">Wheat May24</span></div><div class="t" style="font-size:29.0px;line-height:56px;color:#1a1c1e;top:1048px;letter-spacing:0.109px;left:-508.20px;width:1200px;text-align:right;"><span style="margin-right:-0.109px">5532</span></div><div class="t" style="font-size:29.0px;line-height:56px;color:#2f86ff;top:1048px;letter-spacing:0.245px;left:-391.70px;width:1200px;text-align:right;"><span style="margin-right:-0.245px">+100</span></div><div class="b" style="left:0.00px;top:1102.00px;width:824.00px;height:2.00px;background:#eeeeee;"></div><div class="b" style="left:0.00px;top:1576.00px;width:824.00px;height:160.00px;background:#fff;box-shadow:0 -3px 18px rgba(0,0,0,.145);z-index:5;"></div><div class="b" style="left:0.00px;top:1736.00px;width:824.00px;height:48.00px;background:#fff;z-index:5;"></div><div class="b" style="left:0;top:1576px;width:824px;height:166px;z-index:6"><div class="b" style="left:18.40px;top:24.00px;width:128.00px;height:64.00px;background:#cfdbee;border-radius:32px;"></div><svg class="b" style="left:0;top:0" width="824" height="160" viewBox="160 1736 824 160"><path d="M221.6,1804.2 L236.1,1790 L244.6,1799.3 Q252,1789 262.3,1785.1 M249,1780.7 L262.3,1785.1 L257.4,1798" fill="none" stroke="#0d2680" stroke-width="3.1" stroke-linecap="round" stroke-linejoin="round"/><g fill="none" stroke="#8e8e8e" stroke-width="2.7" stroke-linecap="round" stroke-linejoin="round"><path d="M399.4,1779.6 V1778.2 Q399.4,1773.5 404.2,1773.5 H409.6 Q414.4,1773.5 414.4,1778.2 V1779.6"/><path d="M388.8,1795.6 V1785.2 Q388.8,1780.7 393.6,1780.5 Q406.75,1779.4 419.9,1780.5 Q424.7,1780.7 424.7,1785.2 V1795.6 Q406.75,1802.8 388.8,1795.6 Z"/><path d="M390.3,1797 V1805 Q390.3,1809.9 395.5,1809.9 H418.4 Q423.6,1809.9 423.6,1805 V1797"/></g><circle cx="406.7" cy="1793.5" r="1.7" fill="#8e8e8e"/><g fill="none" stroke="#8e8e8e" stroke-width="2.8" stroke-linecap="round"><circle cx="571.6" cy="1791.9" r="18"/><ellipse cx="571.6" cy="1791.9" rx="8.8" ry="18"/><path d="M555.2,1784.4 Q571.6,1792.6 588,1784.4 M554,1796 Q571.6,1804.6 589.2,1796"/></g><g fill="none" stroke="#8e8e8e" stroke-width="2.75" stroke-linecap="round" stroke-linejoin="round"><path d="M718.7,1785.9 L736.5,1773.8 L754.3,1785.9"/><path d="M721.6,1808.6 V1788.8 Q736.5,1786.4 751.5,1788.8 V1808.6"/><path d="M729,1793.4 V1808.2 M736.6,1793.4 V1808.2 M744.2,1793.4 V1808.2"/><path d="M718.8,1810.2 H754.4"/></g><circle cx="736.6" cy="1781.6" r="1.7" fill="#8e8e8e"/><g fill="none" stroke="#8e8e8e" stroke-linecap="round"><rect x="884.6" y="1775.6" width="33.2" height="33" rx="5.2" stroke-width="2.9"/><path d="M892.2,1796.3 V1801.3 M898.3,1792 V1801.3 M904.4,1787.4 V1801.3 M910.5,1782.9 V1801.3" stroke-width="2.7"/></g></svg><div class="t" style="font-size:24px;line-height:32px;color:#0d2680;top:96px;letter-spacing:0.909px;-webkit-text-stroke:0.82px;left:-517.60px;width:1200px;text-align:center;"><span style="margin-right:-0.909px">Quotes</span></div><div class="t" style="font-size:24px;line-height:32px;color:#8e8e8e;top:96px;letter-spacing:1.366px;-webkit-text-stroke:0.67px;left:-352.80px;width:1200px;text-align:center;"><span style="margin-right:-1.366px">Positions</span></div><div class="t" style="font-size:24px;line-height:32px;color:#8e8e8e;top:96px;letter-spacing:0.776px;-webkit-text-stroke:0.67px;left:-188.00px;width:1200px;text-align:center;"><span style="margin-right:-0.776px">Orders</span></div><div class="t" style="font-size:24px;line-height:32px;color:#8e8e8e;top:96px;letter-spacing:1.253px;-webkit-text-stroke:0.67px;left:-23.20px;width:1200px;text-align:center;"><span style="margin-right:-1.253px">Fills</span></div><div class="t" style="font-size:24px;line-height:32px;color:#8e8e8e;top:96px;letter-spacing:1.066px;-webkit-text-stroke:0.67px;left:141.60px;width:1200px;text-align:center;"><span style="margin-right:-1.066px">Chart</span></div><div class="b" style="left:0.00px;top:0.00px;width:812.00px;height:154.00px;background:transparent;border:6px solid #d73b3e;"></div></div><div class="b" style="left:304.00px;top:1756.00px;width:216.00px;height:8.00px;background:#000;border-radius:4px;z-index:6;"></div></div><div class="ph" style="left:2128px"><div class="b" style="left:0.00px;top:0.00px;width:824.00px;height:232.00px;background:#0d2680;"></div><div class="t" style="font-size:29.0px;line-height:40px;color:#fff;top:44px;letter-spacing:0.468px;-webkit-text-stroke:0.78px;left:47.20px;"><span style="margin-right:-0.468px">9:30</span></div><svg class="b" style="left:660px;top:42px;" width="140" height="50" viewBox="0 0 140 50"><path d="M40.9,38.8 L23.9,18.4 A22.3 22.3 0 0 1 57.75,18.4 Z" fill="#fff" fill-opacity="0.12"/><path d="M59,39 H87.2 V10.9 Z" fill="#fff"/><rect x="99.9" y="13" width="16.2" height="27" rx="2.2" fill="#fff"/><rect x="105" y="10" width="6" height="4" rx="1" fill="#fff"/></svg><svg class="b" style="left:38.2px;top:157px;" width="36" height="24" viewBox="0 0 36 24"><rect x="0" y="0" width="36" height="3.2" rx="1.6" fill="#fff"/><rect x="0" y="10.2" width="36" height="3.2" rx="1.6" fill="#fff"/><rect x="0" y="20.5" width="36" height="3.2" rx="1.6" fill="#fff"/></svg><div class="b" style="left:84.00px;top:151.20px;width:64.00px;height:33.00px;background:#2f86ff;border-radius:8px;"></div><div class="t" style="font-size:18px;line-height:24px;color:#fff;top:156px;letter-spacing:0.931px;font-weight:700;left:-483.70px;width:1200px;text-align:center;"><span style="margin-right:-0.931px">SIM</span></div><div class="t" style="font-size:44px;line-height:56px;color:#fff;top:137px;letter-spacing:1.131px;left:322.65px;"><span style="margin-right:-1.131px">Micro</span></div><svg class="b" style="left:460px;top:155px;" width="40" height="30" viewBox="0 0 40 30"><path d="M8.5,8.5 L17,17 L25.5,8.5" fill="none" stroke="#fff" stroke-width="3" stroke-linecap="round" stroke-linejoin="round"/></svg><svg class="b" style="left:620px;top:148px;" width="44" height="42" viewBox="0 0 44 42"><rect x="3.5" y="3.6999999999999886" width="14" height="13.8" rx="4.2" fill="none" stroke="#fff" stroke-width="3"/><rect x="3.5" y="23.400000000000006" width="14" height="13.8" rx="4.2" fill="none" stroke="#fff" stroke-width="3"/><rect x="23.399999999999977" y="23.400000000000006" width="14" height="13.8" rx="4.2" fill="none" stroke="#fff" stroke-width="3"/></svg><svg class="b" style="left:684px;top:148px;" width="40" height="42" viewBox="0 0 40 42"><path d="M5,20.9 H35.4 M20,5.7 V36.4" fill="none" stroke="#fff" stroke-width="3.2" stroke-linecap="round"/></svg><svg class="b" style="left:744.05px;top:143.9px;" width="48" height="48" viewBox="0 0 48 48"><path d="M30.14,11.60 Q29.54,11.25 29.20,10.11 L28.33,7.18 Q27.98,6.04 26.23,6.04 L21.77,6.04 Q20.02,6.04 19.67,7.18 L18.80,10.11 Q18.46,11.25 17.86,11.60 L16.33,12.48 Q15.73,12.83 14.57,12.55 L11.60,11.85 Q10.43,11.57 9.56,13.09 L7.33,16.95 Q6.45,18.47 7.27,19.34 L9.37,21.56 Q10.19,22.43 10.19,23.12 L10.19,24.88 Q10.19,25.57 9.37,26.44 L7.27,28.66 Q6.45,29.53 7.33,31.05 L9.56,34.91 Q10.43,36.43 11.60,36.15 L14.57,35.45 Q15.73,35.17 16.33,35.52 L17.86,36.40 Q18.46,36.75 18.80,37.89 L19.67,40.82 Q20.02,41.96 21.77,41.96 L26.23,41.96 Q27.98,41.96 28.33,40.82 L29.20,37.89 Q29.54,36.75 30.14,36.40 L31.67,35.52 Q32.27,35.17 33.43,35.45 L36.40,36.15 Q37.57,36.43 38.44,34.91 L40.67,31.05 Q41.55,29.53 40.73,28.66 L38.63,26.44 Q37.81,25.57 37.81,24.88 L37.81,23.12 Q37.81,22.43 38.63,21.56 L40.73,19.34 Q41.55,18.47 40.67,16.95 L38.44,13.09 Q37.57,11.57 36.40,11.85 L33.43,12.55 Q32.27,12.83 31.67,12.48 Z" fill="none" stroke="#fff" stroke-width="3.1" stroke-linejoin="round"/><circle cx="24" cy="24" r="6.2" fill="none" stroke="#fff" stroke-width="3.1"/></svg><div class="b" style="left:0.00px;top:232.00px;width:824.00px;height:88.00px;background:#2f86ff;box-shadow:0 2px 8px rgba(0,0,0,.30);z-index:3;"></div><div class="b" style="left:0;top:232px;width:824px;height:88px;z-index:4"><div class="b" style="left:16.00px;top:24.00px;width:206.00px;height:40.00px;background:#d3e4ff;border-radius:20px;"></div><div class="t" style="font-size:22px;line-height:32px;color:#1a1c1e;top:29px;letter-spacing:1.067px;-webkit-text-stroke:0.62px;left:-481.00px;width:1200px;text-align:center;"><span style="margin-right:-1.067px">JohnB JohnB</span></div><div class="t" style="font-size:22px;line-height:32px;color:#d7e6ff;top:13px;letter-spacing:0.531px;-webkit-text-stroke:0.62px;left:-285.50px;width:1200px;text-align:center;"><span style="margin-right:-0.531px">P&amp;L:</span></div><div class="t" style="font-size:22.5px;line-height:32px;color:#fff;top:45px;letter-spacing:0.969px;-webkit-text-stroke:0.62px;left:-285.50px;width:1200px;text-align:center;"><span style="margin-right:-0.969px">625.00</span></div><div class="t" style="font-size:22px;line-height:32px;color:#d7e6ff;top:13px;letter-spacing:0.532px;-webkit-text-stroke:0.62px;left:-158.00px;width:1200px;text-align:center;"><span style="margin-right:-0.532px">Curr Day P&amp;L:</span></div><div class="t" style="font-size:22.5px;line-height:32px;color:#fff;top:45px;letter-spacing:0.969px;-webkit-text-stroke:0.62px;left:-158.00px;width:1200px;text-align:center;"><span style="margin-right:-0.969px">609.38</span></div><div class="t" style="font-size:22px;line-height:32px;color:#d7e6ff;top:13px;letter-spacing:0.619px;-webkit-text-stroke:0.62px;left:2.00px;width:1200px;text-align:center;"><span style="margin-right:-0.619px">Cash:</span></div><div class="t" style="font-size:22.5px;line-height:32px;color:#fff;top:45px;letter-spacing:0.76px;-webkit-text-stroke:0.62px;left:2.00px;width:1200px;text-align:center;"><span style="margin-right:-0.76px">9,998,638.75</span></div><div class="t" style="font-size:22px;line-height:32px;color:#d7e6ff;top:13px;letter-spacing:0.909px;-webkit-text-stroke:0.62px;left:147.70px;width:1200px;text-align:center;"><span style="margin-right:-0.909px">Net Equity:</span></div><div class="t" style="font-size:22.5px;line-height:32px;color:#fff;top:45px;letter-spacing:0.725px;-webkit-text-stroke:0.62px;left:147.70px;width:1200px;text-align:center;"><span style="margin-right:-0.725px">10,000,638</span></div></div><div class="b card" style="left:17px;top:330px;"><div class="b" style="left:14.00px;top:24.00px;width:16.00px;height:16.00px;background:#188750;border-radius:50%;"></div><div class="t" style="font-size:28.5px;line-height:40px;color:#0d2680;top:14px;letter-spacing:-0.069px;left:37.60px;"><span style="margin-right:0.069px">E-mini S&amp;P 500 Jun24</span></div><svg class="b" style="left:14px;top:116px;overflow:visible" width="142" height="64" viewBox="0 0 142 64"><defs><linearGradient id="g1" gradientUnits="userSpaceOnUse" x1="0" y1="0" x2="0" y2="54"><stop offset="0" stop-color="#2f86ff" stop-opacity="0.32"/><stop offset="1" stop-color="#2f86ff" stop-opacity="0"/></linearGradient></defs><path d="M-0.4,54 L-0.4,46.6 L5.1,35.4 L10.3,53.3 L14.4,29.6 L17.7,45.1 L19.9,36.5 L22.3,38.2 L24.9,14.4 L27.3,25.5 L29.0,16.5 L31.1,21.0 L32.8,17.9 L35.1,21.3 L36.6,13.4 L41.1,19.3 L43.2,10.7 L46.1,11.0 L47.5,7.9 L54.7,15.5 L56.1,9.6 L57.4,15.1 L59.5,4.5 L62.6,8.0 L64.8,1.6 L70.5,32.0 L72.5,26.1 L74.1,35.8 L77.8,27.7 L79.8,31.0 L81.7,26.1 L83.9,46.5 L87.2,26.4 L89.6,36.8 L90.8,29.8 L92.9,32.0 L95.3,16.5 L98.8,23.4 L98.8,15.3 L104.2,9.6 L108.4,15.1 L110.6,28.2 L113.3,21.7 L116.3,36.8 L120.8,34.8 L124.4,41.6 L125.9,34.4 L130.1,45.1 L133.4,38.2 L135.6,41.6 L137.3,33.4 L139.7,35.1 L139.7,54Z" fill="url(#g1)"/><polyline points="-0.4,46.6 5.1,35.4 10.3,53.3 14.4,29.6 17.7,45.1 19.9,36.5 22.3,38.2 24.9,14.4 27.3,25.5 29.0,16.5 31.1,21.0 32.8,17.9 35.1,21.3 36.6,13.4 41.1,19.3 43.2,10.7 46.1,11.0 47.5,7.9 54.7,15.5 56.1,9.6 57.4,15.1 59.5,4.5 62.6,8.0 64.8,1.6 70.5,32.0 72.5,26.1 74.1,35.8 77.8,27.7 79.8,31.0 81.7,26.1 83.9,46.5 87.2,26.4 89.6,36.8 90.8,29.8 92.9,32.0 95.3,16.5 98.8,23.4 98.8,15.3 104.2,9.6 108.4,15.1 110.6,28.2 113.3,21.7 116.3,36.8 120.8,34.8 124.4,41.6 125.9,34.4 130.1,45.1 133.4,38.2 135.6,41.6 137.3,33.4 139.7,35.1" fill="none" stroke="#2f86ff" stroke-width="2.05" stroke-linejoin="round"/></svg><div class="b" style="left:257.96px;top:110.00px;width:112.04px;height:40.00px;background:#bdd6f7;border-radius:8px;"></div><div class="t" style="font-size:25.0px;line-height:32px;color:#2f86ff;top:113px;letter-spacing:0.734px;-webkit-text-stroke:0.67px;left:-286.82px;width:1200px;text-align:center;"><span style="margin-right:-0.734px">525500</span></div><div class="t" style="font-size:25.0px;line-height:32px;color:#2f86ff;top:153px;letter-spacing:-0.45px;left:-831.40px;width:1200px;text-align:right;"><span style="margin-right:0.45px">+1.03%</span></div><div class="b" style="left:274.40px;top:158.60px;width:2.00px;height:19.60px;background:#444;"></div><div class="t" style="font-size:25.0px;line-height:32px;color:#2f86ff;top:153px;letter-spacing:0.272px;left:-937.80px;width:1200px;text-align:right;"><span style="margin-right:-0.272px">+1425</span></div></div><div class="b card" style="left:423px;top:330px;"><div class="b" style="left:14.00px;top:24.00px;width:16.00px;height:16.00px;background:#188750;border-radius:50%;"></div><div class="t" style="font-size:28.5px;line-height:40px;color:#0d2680;top:14px;letter-spacing:0.061px;left:37.60px;"><span style="margin-right:-0.061px">E-mini Micro S&amp;P Ju24</span></div><svg class="b" style="left:14px;top:116px;overflow:visible" width="142" height="64" viewBox="0 0 142 64"><defs><linearGradient id="g2" gradientUnits="userSpaceOnUse" x1="0" y1="0" x2="0" y2="54"><stop offset="0" stop-color="#2f86ff" stop-opacity="0.32"/><stop offset="1" stop-color="#2f86ff" stop-opacity="0"/></linearGradient></defs><path d="M0.2,54 L0.2,49.5 L4.8,47.1 L9.9,29.9 L13.0,44.7 L16.8,49.2 L19.6,44.7 L22.8,42.9 L25.2,37.2 L27.0,40.8 L29.8,33.7 L34.4,42.5 L39.0,35.1 L45.4,50.6 L50.8,53.2 L53.8,43.6 L57.0,45.1 L58.8,38.7 L61.9,40.1 L63.8,27.5 L67.8,31.9 L71.9,31.9 L74.0,35.3 L75.0,31.9 L78.3,31.9 L80.3,27.5 L84.3,29.6 L87.0,33.2 L92.0,24.8 L95.0,27.2 L97.0,11.9 L103.2,1.6 L110.8,19.3 L114.2,15.8 L118.4,19.6 L120.8,13.1 L125.2,13.1 L127.7,18.6 L129.4,13.1 L131.8,13.1 L133.5,18.2 L134.9,15.8 L140.1,22.0 L140.1,54Z" fill="url(#g2)"/><polyline points="0.2,49.5 4.8,47.1 9.9,29.9 13.0,44.7 16.8,49.2 19.6,44.7 22.8,42.9 25.2,37.2 27.0,40.8 29.8,33.7 34.4,42.5 39.0,35.1 45.4,50.6 50.8,53.2 53.8,43.6 57.0,45.1 58.8,38.7 61.9,40.1 63.8,27.5 67.8,31.9 71.9,31.9 74.0,35.3 75.0,31.9 78.3,31.9 80.3,27.5 84.3,29.6 87.0,33.2 92.0,24.8 95.0,27.2 97.0,11.9 103.2,1.6 110.8,19.3 114.2,15.8 118.4,19.6 120.8,13.1 125.2,13.1 127.7,18.6 129.4,13.1 131.8,13.1 133.5,18.2 134.9,15.8 140.1,22.0" fill="none" stroke="#2f86ff" stroke-width="2.05" stroke-linejoin="round"/></svg><div class="b" style="left:257.96px;top:110.00px;width:112.04px;height:40.00px;background:#bdd6f7;border-radius:8px;"></div><div class="t" style="font-size:25.0px;line-height:32px;color:#2f86ff;top:113px;letter-spacing:0.734px;-webkit-text-stroke:0.67px;left:-286.82px;width:1200px;text-align:center;"><span style="margin-right:-0.734px">527775</span></div><div class="t" style="font-size:25.0px;line-height:32px;color:#2f86ff;top:153px;letter-spacing:-0.45px;left:-831.40px;width:1200px;text-align:right;"><span style="margin-right:0.45px">+1.76%</span></div><div class="b" style="left:274.40px;top:158.60px;width:2.00px;height:19.60px;background:#444;"></div><div class="t" style="font-size:25.0px;line-height:32px;color:#2f86ff;top:153px;letter-spacing:0.272px;left:-937.80px;width:1200px;text-align:right;"><span style="margin-right:-0.272px">+1525</span></div></div><div class="b card" style="left:17px;top:538px;"><div class="b" style="left:14.00px;top:24.00px;width:16.00px;height:16.00px;background:#188750;border-radius:50%;"></div><div class="t" style="font-size:28.5px;line-height:40px;color:#0d2680;top:14px;letter-spacing:0.148px;left:37.60px;"><span style="margin-right:-0.148px">E-mini Micro Dow</span></div><div class="t" style="font-size:28.5px;line-height:40px;color:#0d2680;top:54px;letter-spacing:0.534px;left:37.60px;"><span style="margin-right:-0.534px">Jun24</span></div><svg class="b" style="left:14px;top:116px;overflow:visible" width="142" height="64" viewBox="0 0 142 64"><defs><linearGradient id="g3" gradientUnits="userSpaceOnUse" x1="0" y1="0" x2="0" y2="54"><stop offset="0" stop-color="#2f86ff" stop-opacity="0.32"/><stop offset="1" stop-color="#2f86ff" stop-opacity="0"/></linearGradient></defs><path d="M0.2,54 L0.2,49.5 L4.8,47.1 L9.9,29.9 L13.0,44.7 L16.8,49.2 L19.6,44.7 L22.8,42.9 L25.2,37.2 L27.0,40.8 L29.8,33.7 L34.4,42.5 L39.0,35.1 L45.4,50.6 L50.8,53.2 L53.8,43.6 L57.0,45.1 L58.8,38.7 L61.9,40.1 L63.8,27.5 L67.8,31.9 L71.9,31.9 L74.0,35.3 L75.0,31.9 L78.3,31.9 L80.3,27.5 L84.3,29.6 L87.0,33.2 L92.0,24.8 L95.0,27.2 L97.0,11.9 L103.2,1.6 L110.8,19.3 L114.2,15.8 L118.4,19.6 L120.8,13.1 L125.2,13.1 L127.7,18.6 L129.4,13.1 L131.8,13.1 L133.5,18.2 L134.9,15.8 L140.1,22.0 L140.1,54Z" fill="url(#g3)"/><polyline points="0.2,49.5 4.8,47.1 9.9,29.9 13.0,44.7 16.8,49.2 19.6,44.7 22.8,42.9 25.2,37.2 27.0,40.8 29.8,33.7 34.4,42.5 39.0,35.1 45.4,50.6 50.8,53.2 53.8,43.6 57.0,45.1 58.8,38.7 61.9,40.1 63.8,27.5 67.8,31.9 71.9,31.9 74.0,35.3 75.0,31.9 78.3,31.9 80.3,27.5 84.3,29.6 87.0,33.2 92.0,24.8 95.0,27.2 97.0,11.9 103.2,1.6 110.8,19.3 114.2,15.8 118.4,19.6 120.8,13.1 125.2,13.1 127.7,18.6 129.4,13.1 131.8,13.1 133.5,18.2 134.9,15.8 140.1,22.0" fill="none" stroke="#2f86ff" stroke-width="2.05" stroke-linejoin="round"/></svg><div class="b" style="left:272.60px;top:110.00px;width:97.40px;height:40.00px;background:#bdd6f7;border-radius:8px;"></div><div class="t" style="font-size:25.0px;line-height:32px;color:#2f86ff;top:113px;letter-spacing:0.734px;-webkit-text-stroke:0.67px;left:-279.50px;width:1200px;text-align:center;"><span style="margin-right:-0.734px">39515</span></div><div class="t" style="font-size:25.0px;line-height:32px;color:#2f86ff;top:153px;letter-spacing:-0.45px;left:-831.40px;width:1200px;text-align:right;"><span style="margin-right:0.45px">+1.76%</span></div><div class="b" style="left:274.40px;top:158.60px;width:2.00px;height:19.60px;background:#444;"></div><div class="t" style="font-size:25.0px;line-height:32px;color:#2f86ff;top:153px;letter-spacing:0.191px;left:-937.80px;width:1200px;text-align:right;"><span style="margin-right:-0.191px">+46</span></div></div><div class="b card" style="left:423px;top:538px;"><div class="b" style="left:14.00px;top:24.00px;width:16.00px;height:16.00px;background:#d73b3e;border-radius:50%;"></div><div class="t" style="font-size:28.5px;line-height:40px;color:#0d2680;top:14px;letter-spacing:0.07px;left:37.60px;"><span style="margin-right:-0.07px">E-mini Dow Jun24</span></div><svg class="b" style="left:14px;top:116px;overflow:visible" width="142" height="64" viewBox="0 0 142 64"><defs><linearGradient id="g4" gradientUnits="userSpaceOnUse" x1="0" y1="0" x2="0" y2="54"><stop offset="0" stop-color="#2f86ff" stop-opacity="0.32"/><stop offset="1" stop-color="#2f86ff" stop-opacity="0"/></linearGradient></defs><path d="M-0.2,54 L-0.2,46.1 L6.2,53.2 L9.0,44.7 L13.0,48.4 L17.3,50.2 L23.0,40.1 L25.2,44.7 L27.5,39.2 L28.7,42.0 L32.3,42.0 L34.7,37.9 L37.8,43.8 L41.3,39.2 L45.7,39.2 L47.8,50.6 L49.4,41.0 L51.9,42.7 L55.0,42.7 L58.7,36.5 L59.9,40.1 L61.9,37.9 L67.1,46.1 L73.3,49.5 L74.7,44.7 L79.5,44.7 L80.6,51.3 L83.3,42.0 L86.0,45.1 L90.8,43.7 L92.8,37.5 L95.3,40.1 L98.4,38.2 L99.6,39.2 L101.8,34.6 L107.2,40.1 L112.2,39.2 L115.3,46.1 L119.8,36.5 L122.8,40.1 L124.8,34.6 L128.5,43.0 L132.8,1.6 L140.1,14.8 L140.1,54Z" fill="url(#g4)"/><polyline points="-0.2,46.1 6.2,53.2 9.0,44.7 13.0,48.4 17.3,50.2 23.0,40.1 25.2,44.7 27.5,39.2 28.7,42.0 32.3,42.0 34.7,37.9 37.8,43.8 41.3,39.2 45.7,39.2 47.8,50.6 49.4,41.0 51.9,42.7 55.0,42.7 58.7,36.5 59.9,40.1 61.9,37.9 67.1,46.1 73.3,49.5 74.7,44.7 79.5,44.7 80.6,51.3 83.3,42.0 86.0,45.1 90.8,43.7 92.8,37.5 95.3,40.1 98.4,38.2 99.6,39.2 101.8,34.6 107.2,40.1 112.2,39.2 115.3,46.1 119.8,36.5 122.8,40.1 124.8,34.6 128.5,43.0 132.8,1.6 140.1,14.8" fill="none" stroke="#2f86ff" stroke-width="2.05" stroke-linejoin="round"/></svg><div class="b" style="left:272.60px;top:110.00px;width:97.40px;height:40.00px;background:#bdd6f7;border-radius:8px;"></div><div class="t" style="font-size:25.0px;line-height:32px;color:#2f86ff;top:113px;letter-spacing:0.734px;-webkit-text-stroke:0.67px;left:-279.50px;width:1200px;text-align:center;"><span style="margin-right:-0.734px">39519</span></div><div class="t" style="font-size:25.0px;line-height:32px;color:#2f86ff;top:153px;letter-spacing:-0.45px;left:-831.40px;width:1200px;text-align:right;"><span style="margin-right:0.45px">+0.15%</span></div><div class="b" style="left:274.40px;top:158.60px;width:2.00px;height:19.60px;background:#444;"></div><div class="t" style="font-size:25.0px;line-height:32px;color:#2f86ff;top:153px;letter-spacing:0.191px;left:-937.80px;width:1200px;text-align:right;"><span style="margin-right:-0.191px">+54</span></div></div><div class="b card" style="left:17px;top:746px;"><div class="b" style="left:14.00px;top:24.00px;width:16.00px;height:16.00px;background:#188750;border-radius:50%;"></div><div class="t" style="font-size:28.5px;line-height:40px;color:#0d2680;top:14px;letter-spacing:0.173px;left:37.60px;"><span style="margin-right:-0.173px">30yr Bond Jun24</span></div><svg class="b" style="left:14px;top:116px;overflow:visible" width="142" height="64" viewBox="0 0 142 64"><defs><linearGradient id="g5" gradientUnits="userSpaceOnUse" x1="0" y1="0" x2="0" y2="54"><stop offset="0" stop-color="#d73b3e" stop-opacity="0.27"/><stop offset="1" stop-color="#d73b3e" stop-opacity="0"/></linearGradient></defs><path d="M-0.4,54 L-0.4,39.6 L2.7,34.1 L8.1,53.3 L13.4,39.9 L16.1,49.9 L18.0,39.9 L20.3,43.0 L24.4,28.9 L26.1,31.3 L28.2,22.0 L31.3,27.9 L32.6,23.7 L33.8,27.2 L35.9,18.6 L40.1,27.9 L42.3,22.4 L45.4,21.8 L47.2,18.6 L49.2,21.8 L51.2,22.0 L53.3,26.5 L55.4,26.8 L56.9,29.1 L60.1,10.5 L61.9,16.0 L63.8,10.5 L68.8,36.1 L70.5,33.0 L72.9,40.3 L76.0,24.1 L80.3,22.0 L82.2,45.4 L85.9,26.5 L87.2,29.1 L88.8,23.7 L91.2,25.8 L94.4,8.2 L97.4,14.1 L98.8,5.8 L101.6,5.8 L102.5,11.0 L104.0,1.7 L109.9,24.1 L110.8,17.9 L114.2,17.9 L117.0,33.4 L118.7,30.6 L120.8,33.2 L124.4,27.4 L127.0,27.4 L130.1,40.5 L133.4,30.3 L135.9,33.0 L138.0,30.5 L140.1,32.7 L140.1,54Z" fill="url(#g5)"/><polyline points="-0.4,39.6 2.7,34.1 8.1,53.3 13.4,39.9 16.1,49.9 18.0,39.9 20.3,43.0 24.4,28.9 26.1,31.3 28.2,22.0 31.3,27.9 32.6,23.7 33.8,27.2 35.9,18.6 40.1,27.9 42.3,22.4 45.4,21.8 47.2,18.6 49.2,21.8 51.2,22.0 53.3,26.5 55.4,26.8 56.9,29.1 60.1,10.5 61.9,16.0 63.8,10.5 68.8,36.1 70.5,33.0 72.9,40.3 76.0,24.1 80.3,22.0 82.2,45.4 85.9,26.5 87.2,29.1 88.8,23.7 91.2,25.8 94.4,8.2 97.4,14.1 98.8,5.8 101.6,5.8 102.5,11.0 104.0,1.7 109.9,24.1 110.8,17.9 114.2,17.9 117.0,33.4 118.7,30.6 120.8,33.2 124.4,27.4 127.0,27.4 130.1,40.5 133.4,30.3 135.9,33.0 138.0,30.5 140.1,32.7" fill="none" stroke="#d73b3e" stroke-width="2.05" stroke-linejoin="round"/></svg><div class="b" style="left:272.60px;top:110.00px;width:97.40px;height:40.00px;background:#f9dede;border-radius:8px;"></div><div class="t" style="font-size:25.0px;line-height:32px;color:#d73b3e;top:113px;letter-spacing:1.106px;-webkit-text-stroke:0.67px;left:-279.50px;width:1200px;text-align:center;"><span style="margin-right:-1.106px">11626</span></div><div class="t" style="font-size:25.0px;line-height:32px;color:#d73b3e;top:153px;letter-spacing:-0.567px;left:-831.40px;width:1200px;text-align:right;"><span style="margin-right:0.567px">-0.77%</span></div><div class="b" style="left:282.38px;top:158.60px;width:2.00px;height:19.60px;background:#444;"></div><div class="t" style="font-size:25.0px;line-height:32px;color:#d73b3e;top:153px;letter-spacing:-0.044px;left:-928.82px;width:1200px;text-align:right;"><span style="margin-right:0.044px">-20</span></div></div><div class="b card" style="left:423px;top:746px;"><div class="b" style="left:14.00px;top:24.00px;width:16.00px;height:16.00px;background:#2f86ff;border-radius:50%;"></div><div class="t" style="font-size:28.5px;line-height:40px;color:#0d2680;top:14px;letter-spacing:0.282px;left:37.60px;"><span style="margin-right:-0.282px">10yr Note Jun24</span></div><svg class="b" style="left:14px;top:116px;overflow:visible" width="142" height="64" viewBox="0 0 142 64"><defs><linearGradient id="g6" gradientUnits="userSpaceOnUse" x1="0" y1="0" x2="0" y2="54"><stop offset="0" stop-color="#d73b3e" stop-opacity="0.27"/><stop offset="1" stop-color="#d73b3e" stop-opacity="0"/></linearGradient></defs><path d="M-0.2,54 L-0.2,46.1 L6.2,53.2 L9.0,44.7 L13.0,48.4 L17.3,50.2 L23.0,40.1 L25.2,44.7 L27.5,39.2 L28.7,42.0 L32.3,42.0 L34.7,37.9 L37.8,43.8 L41.3,39.2 L45.7,39.2 L47.8,50.6 L49.4,41.0 L51.9,42.7 L55.0,42.7 L58.7,36.5 L59.9,40.1 L61.9,37.9 L67.1,46.1 L73.3,49.5 L74.7,44.7 L79.5,44.7 L80.6,51.3 L83.3,42.0 L86.0,45.1 L90.8,43.7 L92.8,37.5 L95.3,40.1 L98.4,38.2 L99.6,39.2 L101.8,34.6 L107.2,40.1 L112.2,39.2 L115.3,46.1 L119.8,36.5 L122.8,40.1 L124.8,34.6 L128.5,43.0 L132.8,1.6 L140.1,14.8 L140.1,54Z" fill="url(#g6)"/><polyline points="-0.2,46.1 6.2,53.2 9.0,44.7 13.0,48.4 17.3,50.2 23.0,40.1 25.2,44.7 27.5,39.2 28.7,42.0 32.3,42.0 34.7,37.9 37.8,43.8 41.3,39.2 45.7,39.2 47.8,50.6 49.4,41.0 51.9,42.7 55.0,42.7 58.7,36.5 59.9,40.1 61.9,37.9 67.1,46.1 73.3,49.5 74.7,44.7 79.5,44.7 80.6,51.3 83.3,42.0 86.0,45.1 90.8,43.7 92.8,37.5 95.3,40.1 98.4,38.2 99.6,39.2 101.8,34.6 107.2,40.1 112.2,39.2 115.3,46.1 119.8,36.5 122.8,40.1 124.8,34.6 128.5,43.0 132.8,1.6 140.1,14.8" fill="none" stroke="#d73b3e" stroke-width="2.05" stroke-linejoin="round"/></svg><div class="b" style="left:257.96px;top:110.00px;width:112.04px;height:40.00px;background:#f9dede;border-radius:8px;"></div><div class="t" style="font-size:25.0px;line-height:32px;color:#d73b3e;top:113px;letter-spacing:1.044px;-webkit-text-stroke:0.67px;left:-286.82px;width:1200px;text-align:center;"><span style="margin-right:-1.044px">109115</span></div><div class="t" style="font-size:25.0px;line-height:32px;color:#d73b3e;top:153px;letter-spacing:-0.567px;left:-831.40px;width:1200px;text-align:right;"><span style="margin-right:0.567px">-0.25%</span></div><div class="b" style="left:282.38px;top:158.60px;width:2.00px;height:19.60px;background:#444;"></div><div class="t" style="font-size:25.0px;line-height:32px;color:#d73b3e;top:153px;letter-spacing:-0.044px;left:-928.82px;width:1200px;text-align:right;"><span style="margin-right:0.044px">-75</span></div></div><div class="b card" style="left:17px;top:954px;"><div class="b" style="left:14.00px;top:24.00px;width:16.00px;height:16.00px;background:#188750;border-radius:50%;"></div><div class="t" style="font-size:28.5px;line-height:40px;color:#0d2680;top:14px;letter-spacing:-0.106px;left:37.60px;"><span style="margin-right:0.106px">Crude Oil May24</span></div><svg class="b" style="left:14px;top:116px;overflow:visible" width="142" height="64" viewBox="0 0 142 64"><defs><linearGradient id="g7" gradientUnits="userSpaceOnUse" x1="0" y1="0" x2="0" y2="54"><stop offset="0" stop-color="#2f86ff" stop-opacity="0.32"/><stop offset="1" stop-color="#2f86ff" stop-opacity="0"/></linearGradient></defs><path d="M-0.1,54 L-0.1,34.8 L3.9,35.8 L6.2,53.3 L8.2,35.8 L12.7,35.1 L16.3,18.9 L25.8,18.9 L28.9,2.0 L35.8,2.0 L38.0,19.9 L39.9,2.0 L55.0,2.0 L56.4,19.9 L58.1,2.0 L72.6,2.0 L74.7,18.9 L83.3,18.9 L86.0,2.0 L90.1,18.9 L102.9,18.9 L106.0,2.0 L112.9,2.0 L114.9,19.9 L116.3,2.0 L120.1,19.7 L140.1,19.7 L140.1,54Z" fill="url(#g7)"/><polyline points="-0.1,34.8 3.9,35.8 6.2,53.3 8.2,35.8 12.7,35.1 16.3,18.9 25.8,18.9 28.9,2.0 35.8,2.0 38.0,19.9 39.9,2.0 55.0,2.0 56.4,19.9 58.1,2.0 72.6,2.0 74.7,18.9 83.3,18.9 86.0,2.0 90.1,18.9 102.9,18.9 106.0,2.0 112.9,2.0 114.9,19.9 116.3,2.0 120.1,19.7 140.1,19.7" fill="none" stroke="#2f86ff" stroke-width="2.05" stroke-linejoin="round"/></svg><div class="b" style="left:287.24px;top:110.00px;width:82.76px;height:40.00px;background:#bdd6f7;border-radius:8px;"></div><div class="t" style="font-size:25.0px;line-height:32px;color:#2f86ff;top:113px;letter-spacing:0.734px;-webkit-text-stroke:0.67px;left:-272.18px;width:1200px;text-align:center;"><span style="margin-right:-0.734px">8570</span></div><div class="t" style="font-size:25.0px;line-height:32px;color:#2f86ff;top:153px;letter-spacing:-0.45px;left:-831.40px;width:1200px;text-align:right;"><span style="margin-right:0.45px">+0.83%</span></div><div class="b" style="left:274.40px;top:158.60px;width:2.00px;height:19.60px;background:#444;"></div><div class="t" style="font-size:25.0px;line-height:32px;color:#2f86ff;top:153px;letter-spacing:0.191px;left:-937.80px;width:1200px;text-align:right;"><span style="margin-right:-0.191px">+65</span></div></div><div class="b card" style="left:423px;top:954px;"><div class="b" style="left:14.00px;top:24.00px;width:16.00px;height:16.00px;background:#ff9100;border-radius:50%;"></div><div class="t" style="font-size:28.5px;line-height:40px;color:#0d2680;top:14px;letter-spacing:0.072px;left:37.60px;"><span style="margin-right:-0.072px">E-mini Micro WTI</span></div><div class="t" style="font-size:28.5px;line-height:40px;color:#0d2680;top:54px;letter-spacing:-0.106px;left:37.60px;"><span style="margin-right:0.106px">Crude Oil May24</span></div><svg class="b" style="left:14px;top:116px;overflow:visible" width="142" height="64" viewBox="0 0 142 64"><defs><linearGradient id="g8" gradientUnits="userSpaceOnUse" x1="0" y1="6" x2="0" y2="60"><stop offset="0" stop-color="#2f86ff" stop-opacity="0.32"/><stop offset="1" stop-color="#2f86ff" stop-opacity="0"/></linearGradient></defs><path d="M-0.2,60 L-0.2,45.6 L3.4,50.5 L5.8,48.9 L8.3,59.2 L10.5,43.7 L14.1,41.5 L15.2,50.6 L17.7,39.6 L20.3,43.4 L24.1,26.5 L26.0,34.1 L27.6,26.5 L31.3,34.1 L33.0,26.5 L37.5,26.5 L39.4,34.1 L42.5,25.7 L44.6,28.6 L46.4,25.7 L49.4,34.1 L53.8,26.5 L57.6,34.1 L59.5,21.8 L61.2,27.2 L63.8,20.3 L67.1,46.5 L70.5,44.1 L72.4,48.2 L77.1,33.9 L80.2,33.9 L81.3,57.1 L85.1,35.6 L87.0,42.0 L89.5,40.6 L91.9,43.4 L93.0,25.7 L96.0,31.3 L96.0,23.8 L99.8,21.7 L103.4,16.5 L105.8,22.4 L107.8,20.6 L110.8,29.1 L114.8,7.6 L118.9,22.4 L119.8,13.1 L122.2,13.1 L123.5,15.8 L125.9,13.4 L128.1,26.5 L130.1,19.3 L133.4,17.2 L134.9,23.4 L137.8,21.7 L140.1,34.1 L140.1,60Z" fill="url(#g8)"/><polyline points="-0.2,45.6 3.4,50.5 5.8,48.9 8.3,59.2 10.5,43.7 14.1,41.5 15.2,50.6 17.7,39.6 20.3,43.4 24.1,26.5 26.0,34.1 27.6,26.5 31.3,34.1 33.0,26.5 37.5,26.5 39.4,34.1 42.5,25.7 44.6,28.6 46.4,25.7 49.4,34.1 53.8,26.5 57.6,34.1 59.5,21.8 61.2,27.2 63.8,20.3 67.1,46.5 70.5,44.1 72.4,48.2 77.1,33.9 80.2,33.9 81.3,57.1 85.1,35.6 87.0,42.0 89.5,40.6 91.9,43.4 93.0,25.7 96.0,31.3 96.0,23.8 99.8,21.7 103.4,16.5 105.8,22.4 107.8,20.6 110.8,29.1 114.8,7.6 118.9,22.4 119.8,13.1 122.2,13.1 123.5,15.8 125.9,13.4 128.1,26.5 130.1,19.3 133.4,17.2 134.9,23.4 137.8,21.7 140.1,34.1" fill="none" stroke="#2f86ff" stroke-width="2.05" stroke-linejoin="round"/></svg><div class="b" style="left:287.24px;top:110.00px;width:82.76px;height:40.00px;background:#bdd6f7;border-radius:8px;"></div><div class="t" style="font-size:25.0px;line-height:32px;color:#2f86ff;top:113px;letter-spacing:0.734px;-webkit-text-stroke:0.67px;left:-272.18px;width:1200px;text-align:center;"><span style="margin-right:-0.734px">8569</span></div><div class="t" style="font-size:25.0px;line-height:32px;color:#2f86ff;top:153px;letter-spacing:-0.14px;left:-831.40px;width:1200px;text-align:right;"><span style="margin-right:0.14px">+2.11%</span></div><div class="b" style="left:274.40px;top:158.60px;width:2.00px;height:19.60px;background:#444;"></div><div class="t" style="font-size:25.0px;line-height:32px;color:#2f86ff;top:153px;letter-spacing:0.191px;left:-937.80px;width:1200px;text-align:right;"><span style="margin-right:-0.191px">+66</span></div></div><div class="b card" style="left:17px;top:1162px;"><div class="b" style="left:14.00px;top:24.00px;width:16.00px;height:16.00px;background:#188750;border-radius:50%;"></div><div class="t" style="font-size:28.5px;line-height:40px;color:#0d2680;top:14px;letter-spacing:0.249px;left:37.60px;"><span style="margin-right:-0.249px">E-mini Micro</span></div><div class="t" style="font-size:28.5px;line-height:40px;color:#0d2680;top:54px;letter-spacing:-0.293px;left:37.60px;"><span style="margin-right:0.293px">NASDAQ-100 Jun24</span></div><svg class="b" style="left:14px;top:116px;overflow:visible" width="142" height="64" viewBox="0 0 142 64"><defs><linearGradient id="g9" gradientUnits="userSpaceOnUse" x1="0" y1="0" x2="0" y2="54"><stop offset="0" stop-color="#2f86ff" stop-opacity="0.32"/><stop offset="1" stop-color="#2f86ff" stop-opacity="0"/></linearGradient></defs><path d="M-0.2,54 L-0.2,46.1 L6.2,53.2 L9.0,44.7 L13.0,48.4 L17.3,50.2 L23.0,40.1 L25.2,44.7 L27.5,39.2 L28.7,42.0 L32.3,42.0 L34.7,37.9 L37.8,43.8 L41.3,39.2 L45.7,39.2 L47.8,50.6 L49.4,41.0 L51.9,42.7 L55.0,42.7 L58.7,36.5 L59.9,40.1 L61.9,37.9 L67.1,46.1 L73.3,49.5 L74.7,44.7 L79.5,44.7 L80.6,51.3 L83.3,42.0 L86.0,45.1 L90.8,43.7 L92.8,37.5 L95.3,40.1 L98.4,38.2 L99.6,39.2 L101.8,34.6 L107.2,40.1 L112.2,39.2 L115.3,46.1 L119.8,36.5 L122.8,40.1 L124.8,34.6 L128.5,43.0 L132.8,1.6 L140.1,14.8 L140.1,54Z" fill="url(#g9)"/><polyline points="-0.2,46.1 6.2,53.2 9.0,44.7 13.0,48.4 17.3,50.2 23.0,40.1 25.2,44.7 27.5,39.2 28.7,42.0 32.3,42.0 34.7,37.9 37.8,43.8 41.3,39.2 45.7,39.2 47.8,50.6 49.4,41.0 51.9,42.7 55.0,42.7 58.7,36.5 59.9,40.1 61.9,37.9 67.1,46.1 73.3,49.5 74.7,44.7 79.5,44.7 80.6,51.3 83.3,42.0 86.0,45.1 90.8,43.7 92.8,37.5 95.3,40.1 98.4,38.2 99.6,39.2 101.8,34.6 107.2,40.1 112.2,39.2 115.3,46.1 119.8,36.5 122.8,40.1 124.8,34.6 128.5,43.0 132.8,1.6 140.1,14.8" fill="none" stroke="#2f86ff" stroke-width="2.05" stroke-linejoin="round"/></svg><div class="b" style="left:243.32px;top:110.00px;width:126.68px;height:40.00px;background:#bdd6f7;border-radius:8px;"></div><div class="t" style="font-size:25.0px;line-height:32px;color:#2f86ff;top:113px;letter-spacing:0.737px;-webkit-text-stroke:0.67px;left:-294.14px;width:1200px;text-align:center;"><span style="margin-right:-0.737px">1836200</span></div><div class="t" style="font-size:25.0px;line-height:32px;color:#2f86ff;top:153px;letter-spacing:-0.45px;left:-831.40px;width:1200px;text-align:right;"><span style="margin-right:0.45px">+2.02%</span></div><div class="b" style="left:274.40px;top:158.60px;width:2.00px;height:19.60px;background:#444;"></div><div class="t" style="font-size:25.0px;line-height:32px;color:#2f86ff;top:153px;letter-spacing:0.272px;left:-937.80px;width:1200px;text-align:right;"><span style="margin-right:-0.272px">+8700</span></div></div><div class="b card" style="left:423px;top:1162px;"><div class="b" style="left:14.00px;top:24.00px;width:16.00px;height:16.00px;background:#555555;border-radius:50%;"></div><div class="t" style="font-size:28.5px;line-height:40px;color:#0d2680;top:14px;letter-spacing:0.194px;left:37.60px;"><span style="margin-right:-0.194px">Gold Apr24</span></div><svg class="b" style="left:14px;top:116px;overflow:visible" width="142" height="64" viewBox="0 0 142 64"><defs><linearGradient id="g10" gradientUnits="userSpaceOnUse" x1="0" y1="0" x2="0" y2="54"><stop offset="0" stop-color="#2f86ff" stop-opacity="0.32"/><stop offset="1" stop-color="#2f86ff" stop-opacity="0"/></linearGradient></defs><path d="M-0.4,54 L-0.4,46.6 L5.1,35.4 L10.3,53.3 L14.4,29.6 L17.7,45.1 L19.9,36.5 L22.3,38.2 L24.9,14.4 L27.3,25.5 L29.0,16.5 L31.1,21.0 L32.8,17.9 L35.1,21.3 L36.6,13.4 L41.1,19.3 L43.2,10.7 L46.1,11.0 L47.5,7.9 L54.7,15.5 L56.1,9.6 L57.4,15.1 L59.5,4.5 L62.6,8.0 L64.8,1.6 L70.5,32.0 L72.5,26.1 L74.1,35.8 L77.8,27.7 L79.8,31.0 L81.7,26.1 L83.9,46.5 L87.2,26.4 L89.6,36.8 L90.8,29.8 L92.9,32.0 L95.3,16.5 L98.8,23.4 L98.8,15.3 L104.2,9.6 L108.4,15.1 L110.6,28.2 L113.3,21.7 L116.3,36.8 L120.8,34.8 L124.4,41.6 L125.9,34.4 L130.1,45.1 L133.4,38.2 L135.6,41.6 L137.3,33.4 L139.7,35.1 L139.7,54Z" fill="url(#g10)"/><polyline points="-0.4,46.6 5.1,35.4 10.3,53.3 14.4,29.6 17.7,45.1 19.9,36.5 22.3,38.2 24.9,14.4 27.3,25.5 29.0,16.5 31.1,21.0 32.8,17.9 35.1,21.3 36.6,13.4 41.1,19.3 43.2,10.7 46.1,11.0 47.5,7.9 54.7,15.5 56.1,9.6 57.4,15.1 59.5,4.5 62.6,8.0 64.8,1.6 70.5,32.0 72.5,26.1 74.1,35.8 77.8,27.7 79.8,31.0 81.7,26.1 83.9,46.5 87.2,26.4 89.6,36.8 90.8,29.8 92.9,32.0 95.3,16.5 98.8,23.4 98.8,15.3 104.2,9.6 108.4,15.1 110.6,28.2 113.3,21.7 116.3,36.8 120.8,34.8 124.4,41.6 125.9,34.4 130.1,45.1 133.4,38.2 135.6,41.6 137.3,33.4 139.7,35.1" fill="none" stroke="#2f86ff" stroke-width="2.05" stroke-linejoin="round"/></svg><div class="b" style="left:272.60px;top:110.00px;width:97.40px;height:40.00px;background:#bdd6f7;border-radius:8px;"></div><div class="t" style="font-size:25.0px;line-height:32px;color:#2f86ff;top:113px;letter-spacing:0.734px;-webkit-text-stroke:0.67px;left:-279.50px;width:1200px;text-align:center;"><span style="margin-right:-0.734px">22752</span></div><div class="t" style="font-size:25.0px;line-height:32px;color:#2f86ff;top:153px;letter-spacing:-0.45px;left:-831.40px;width:1200px;text-align:right;"><span style="margin-right:0.45px">+3.85%</span></div><div class="b" style="left:274.40px;top:158.60px;width:2.00px;height:19.60px;background:#444;"></div><div class="t" style="font-size:25.0px;line-height:32px;color:#2f86ff;top:153px;letter-spacing:0.245px;left:-937.80px;width:1200px;text-align:right;"><span style="margin-right:-0.245px">+167</span></div></div><div class="b card" style="left:17px;top:1370px;"><div class="b" style="left:14.00px;top:24.00px;width:16.00px;height:16.00px;background:#188750;border-radius:50%;"></div><div class="t" style="font-size:28.5px;line-height:40px;color:#0d2680;top:14px;letter-spacing:0.182px;left:37.60px;"><span style="margin-right:-0.182px">Silver Apr24</span></div><svg class="b" style="left:14px;top:116px;overflow:visible" width="142" height="64" viewBox="0 0 142 64"><defs><linearGradient id="g11" gradientUnits="userSpaceOnUse" x1="0" y1="0" x2="0" y2="54"><stop offset="0" stop-color="#2f86ff" stop-opacity="0.32"/><stop offset="1" stop-color="#2f86ff" stop-opacity="0"/></linearGradient></defs><path d="M-0.1,54 L-0.1,44.0 L3.0,42.0 L8.4,52.3 L13.9,35.4 L16.3,41.3 L17.9,35.4 L20.1,39.9 L24.7,30.6 L27.3,37.9 L29.4,29.2 L30.9,37.9 L36.3,26.5 L39.9,35.1 L43.7,29.4 L49.9,37.6 L54.0,37.9 L55.7,41.3 L57.6,34.4 L61.2,37.5 L64.5,32.7 L68.1,47.5 L71.2,43.4 L74.2,48.5 L76.0,43.4 L80.5,45.8 L82.4,53.3 L85.3,44.7 L87.5,47.1 L89.9,41.8 L92.8,46.1 L94.6,31.6 L97.2,35.1 L100.5,27.5 L102.4,32.0 L103.9,14.7 L109.8,18.2 L113.7,10.0 L115.3,18.2 L117.9,16.5 L120.8,22.4 L124.2,14.1 L127.3,14.1 L130.1,20.6 L133.3,4.5 L135.9,8.0 L137.4,1.6 L140.1,3.9 L140.1,54Z" fill="url(#g11)"/><polyline points="-0.1,44.0 3.0,42.0 8.4,52.3 13.9,35.4 16.3,41.3 17.9,35.4 20.1,39.9 24.7,30.6 27.3,37.9 29.4,29.2 30.9,37.9 36.3,26.5 39.9,35.1 43.7,29.4 49.9,37.6 54.0,37.9 55.7,41.3 57.6,34.4 61.2,37.5 64.5,32.7 68.1,47.5 71.2,43.4 74.2,48.5 76.0,43.4 80.5,45.8 82.4,53.3 85.3,44.7 87.5,47.1 89.9,41.8 92.8,46.1 94.6,31.6 97.2,35.1 100.5,27.5 102.4,32.0 103.9,14.7 109.8,18.2 113.7,10.0 115.3,18.2 117.9,16.5 120.8,22.4 124.2,14.1 127.3,14.1 130.1,20.6 133.3,4.5 135.9,8.0 137.4,1.6 140.1,3.9" fill="none" stroke="#2f86ff" stroke-width="2.05" stroke-linejoin="round"/></svg><div class="b" style="left:272.60px;top:110.00px;width:97.40px;height:40.00px;background:#bdd6f7;border-radius:8px;"></div><div class="t" style="font-size:25.0px;line-height:32px;color:#2f86ff;top:113px;letter-spacing:0.734px;-webkit-text-stroke:0.67px;left:-279.50px;width:1200px;text-align:center;"><span style="margin-right:-0.734px">26635</span></div><div class="t" style="font-size:25.0px;line-height:32px;color:#2f86ff;top:153px;letter-spacing:-0.45px;left:-831.40px;width:1200px;text-align:right;"><span style="margin-right:0.45px">+4.99%</span></div><div class="b" style="left:274.40px;top:158.60px;width:2.00px;height:19.60px;background:#444;"></div><div class="t" style="font-size:25.0px;line-height:32px;color:#2f86ff;top:153px;letter-spacing:0.245px;left:-937.80px;width:1200px;text-align:right;"><span style="margin-right:-0.245px">+986</span></div></div><div class="b card" style="left:423px;top:1370px;"><div class="b" style="left:14.00px;top:24.00px;width:16.00px;height:16.00px;background:#188750;border-radius:50%;"></div><div class="t" style="font-size:28.5px;line-height:40px;color:#0d2680;top:14px;letter-spacing:0.005px;left:37.60px;"><span style="margin-right:-0.005px">Corn May24</span></div><svg class="b" style="left:14px;top:116px;overflow:visible" width="142" height="64" viewBox="0 0 142 64"><defs><linearGradient id="g12" gradientUnits="userSpaceOnUse" x1="0" y1="0" x2="0" y2="54"><stop offset="0" stop-color="#2f86ff" stop-opacity="0.32"/><stop offset="1" stop-color="#2f86ff" stop-opacity="0"/></linearGradient></defs><path d="M-0.1,54 L-0.1,44.0 L3.0,42.0 L8.4,52.3 L13.9,35.4 L16.3,41.3 L17.9,35.4 L20.1,39.9 L24.7,30.6 L27.3,37.9 L29.4,29.2 L30.9,37.9 L36.3,26.5 L39.9,35.1 L43.7,29.4 L49.9,37.6 L54.0,37.9 L55.7,41.3 L57.6,34.4 L61.2,37.5 L64.5,32.7 L68.1,47.5 L71.2,43.4 L74.2,48.5 L76.0,43.4 L80.5,45.8 L82.4,53.3 L85.3,44.7 L87.5,47.1 L89.9,41.8 L92.8,46.1 L94.6,31.6 L97.2,35.1 L100.5,27.5 L102.4,32.0 L103.9,14.7 L109.8,18.2 L113.7,10.0 L115.3,18.2 L117.9,16.5 L120.8,22.4 L124.2,14.1 L127.3,14.1 L130.1,20.6 L133.3,4.5 L135.9,8.0 L137.4,1.6 L140.1,3.9 L140.1,54Z" fill="url(#g12)"/><polyline points="-0.1,44.0 3.0,42.0 8.4,52.3 13.9,35.4 16.3,41.3 17.9,35.4 20.1,39.9 24.7,30.6 27.3,37.9 29.4,29.2 30.9,37.9 36.3,26.5 39.9,35.1 43.7,29.4 49.9,37.6 54.0,37.9 55.7,41.3 57.6,34.4 61.2,37.5 64.5,32.7 68.1,47.5 71.2,43.4 74.2,48.5 76.0,43.4 80.5,45.8 82.4,53.3 85.3,44.7 87.5,47.1 89.9,41.8 92.8,46.1 94.6,31.6 97.2,35.1 100.5,27.5 102.4,32.0 103.9,14.7 109.8,18.2 113.7,10.0 115.3,18.2 117.9,16.5 120.8,22.4 124.2,14.1 127.3,14.1 130.1,20.6 133.3,4.5 135.9,8.0 137.4,1.6 140.1,3.9" fill="none" stroke="#2f86ff" stroke-width="2.05" stroke-linejoin="round"/></svg><div class="b" style="left:264.93px;top:110.00px;width:105.08px;height:40.00px;background:#bdd6f7;border-radius:8px;"></div><div class="t" style="font-size:25.0px;line-height:32px;color:#2f86ff;top:113px;letter-spacing:0.734px;-webkit-text-stroke:0.67px;left:-283.34px;width:1200px;text-align:center;"><span style="margin-right:-0.734px">0.4266</span></div><div class="t" style="font-size:25.0px;line-height:32px;color:#2f86ff;top:153px;letter-spacing:-0.45px;left:-831.40px;width:1200px;text-align:right;"><span style="margin-right:0.45px">+0.94%</span></div><div class="b" style="left:274.40px;top:158.60px;width:2.00px;height:19.60px;background:#444;"></div><div class="t" style="font-size:25.0px;line-height:32px;color:#2f86ff;top:153px;letter-spacing:0.191px;left:-937.80px;width:1200px;text-align:right;"><span style="margin-right:-0.191px">+24</span></div></div><div class="b" style="left:0.00px;top:1576.00px;width:824.00px;height:160.00px;background:#fff;box-shadow:0 -3px 18px rgba(0,0,0,.145);z-index:5;"></div><div class="b" style="left:0.00px;top:1736.00px;width:824.00px;height:48.00px;background:#fff;z-index:5;"></div><div class="b" style="left:0;top:1576px;width:824px;height:166px;z-index:6"><div class="b" style="left:18.40px;top:24.00px;width:128.00px;height:64.00px;background:#cfdbee;border-radius:32px;"></div><svg class="b" style="left:0;top:0" width="824" height="160" viewBox="160 1736 824 160"><path d="M221.6,1804.2 L236.1,1790 L244.6,1799.3 Q252,1789 262.3,1785.1 M249,1780.7 L262.3,1785.1 L257.4,1798" fill="none" stroke="#0d2680" stroke-width="3.1" stroke-linecap="round" stroke-linejoin="round"/><g fill="none" stroke="#8e8e8e" stroke-width="2.7" stroke-linecap="round" stroke-linejoin="round"><path d="M399.4,1779.6 V1778.2 Q399.4,1773.5 404.2,1773.5 H409.6 Q414.4,1773.5 414.4,1778.2 V1779.6"/><path d="M388.8,1795.6 V1785.2 Q388.8,1780.7 393.6,1780.5 Q406.75,1779.4 419.9,1780.5 Q424.7,1780.7 424.7,1785.2 V1795.6 Q406.75,1802.8 388.8,1795.6 Z"/><path d="M390.3,1797 V1805 Q390.3,1809.9 395.5,1809.9 H418.4 Q423.6,1809.9 423.6,1805 V1797"/></g><circle cx="406.7" cy="1793.5" r="1.7" fill="#8e8e8e"/><g fill="none" stroke="#8e8e8e" stroke-width="2.8" stroke-linecap="round"><circle cx="571.6" cy="1791.9" r="18"/><ellipse cx="571.6" cy="1791.9" rx="8.8" ry="18"/><path d="M555.2,1784.4 Q571.6,1792.6 588,1784.4 M554,1796 Q571.6,1804.6 589.2,1796"/></g><g fill="none" stroke="#8e8e8e" stroke-width="2.75" stroke-linecap="round" stroke-linejoin="round"><path d="M718.7,1785.9 L736.5,1773.8 L754.3,1785.9"/><path d="M721.6,1808.6 V1788.8 Q736.5,1786.4 751.5,1788.8 V1808.6"/><path d="M729,1793.4 V1808.2 M736.6,1793.4 V1808.2 M744.2,1793.4 V1808.2"/><path d="M718.8,1810.2 H754.4"/></g><circle cx="736.6" cy="1781.6" r="1.7" fill="#8e8e8e"/><g fill="none" stroke="#8e8e8e" stroke-linecap="round"><rect x="884.6" y="1775.6" width="33.2" height="33" rx="5.2" stroke-width="2.9"/><path d="M892.2,1796.3 V1801.3 M898.3,1792 V1801.3 M904.4,1787.4 V1801.3 M910.5,1782.9 V1801.3" stroke-width="2.7"/></g></svg><div class="t" style="font-size:24px;line-height:32px;color:#0d2680;top:96px;letter-spacing:0.909px;-webkit-text-stroke:0.82px;left:-517.60px;width:1200px;text-align:center;"><span style="margin-right:-0.909px">Quotes</span></div><div class="t" style="font-size:24px;line-height:32px;color:#8e8e8e;top:96px;letter-spacing:1.366px;-webkit-text-stroke:0.67px;left:-352.80px;width:1200px;text-align:center;"><span style="margin-right:-1.366px">Positions</span></div><div class="t" style="font-size:24px;line-height:32px;color:#8e8e8e;top:96px;letter-spacing:0.776px;-webkit-text-stroke:0.67px;left:-188.00px;width:1200px;text-align:center;"><span style="margin-right:-0.776px">Orders</span></div><div class="t" style="font-size:24px;line-height:32px;color:#8e8e8e;top:96px;letter-spacing:1.253px;-webkit-text-stroke:0.67px;left:-23.20px;width:1200px;text-align:center;"><span style="margin-right:-1.253px">Fills</span></div><div class="t" style="font-size:24px;line-height:32px;color:#8e8e8e;top:96px;letter-spacing:1.066px;-webkit-text-stroke:0.67px;left:141.60px;width:1200px;text-align:center;"><span style="margin-right:-1.066px">Chart</span></div><div class="b" style="left:0.00px;top:0.00px;width:812.00px;height:154.00px;background:transparent;border:6px solid #d73b3e;"></div></div><div class="b" style="left:304.00px;top:1756.00px;width:216.00px;height:8.00px;background:#000;border-radius:4px;z-index:6;"></div></div><svg class="b" style="left:0;top:0" width="3112" height="2104" viewBox="0 0 3112 2104"><g fill="none" stroke="#d73b3e" stroke-width="6"><path d="M572,1900 V1977 A48 48 0 0 0 620,2024.8 H1530"/><path d="M1556,1900 V1990"/><path d="M2540.5,1900 V1975 A48 48 0 0 1 2492.5,2023 H1580"/></g><circle cx="1556" cy="2024" r="40" fill="#d73b3e"/><path d="M1560.6,2005.5 H1561.8 V2040 H1554 V2012.6 L1546,2015.6 L1545.7,2011.2 Z" fill="#fff"/></svg></body></html>
